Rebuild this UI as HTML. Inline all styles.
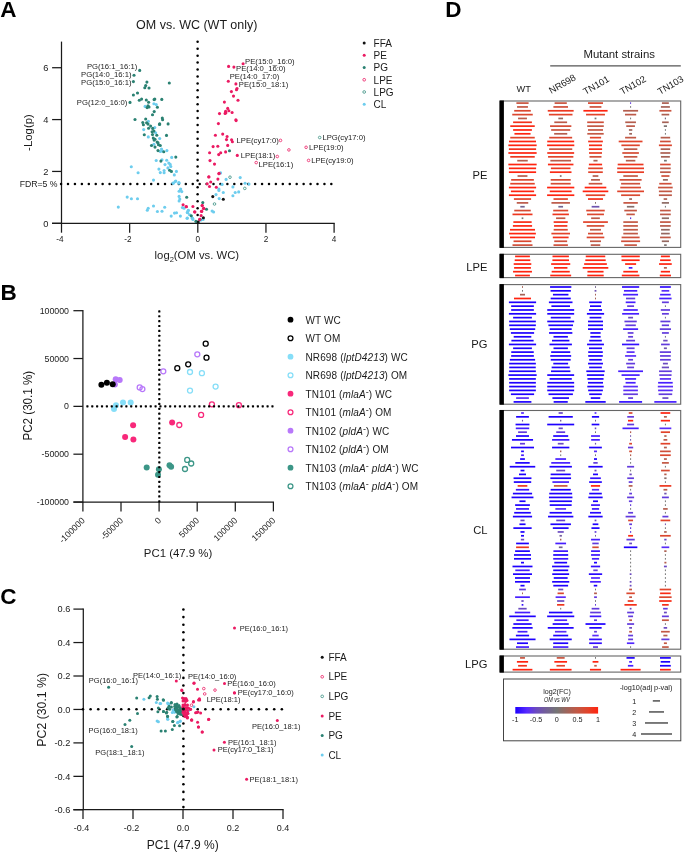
<!DOCTYPE html>
<html><head><meta charset="utf-8"><style>
html,body{margin:0;padding:0;background:#fff;}
svg{display:block;font-family:"Liberation Sans", sans-serif;will-change:transform;}
</style></head><body>
<svg width="685" height="853" viewBox="0 0 685 853">
<rect width="685" height="853" fill="#fff"/>
<text x="0.3" y="17" font-size="22.5" text-anchor="start" fill="#000" font-weight="bold">A</text>
<text x="136.1" y="29.1" font-size="12.5" text-anchor="start" fill="#1a1a1a">OM vs. WC (WT only)</text>
<line x1="61.5" y1="41.6" x2="61.5" y2="223.9" stroke="#1a1a1a" stroke-width="1.25"/>
<line x1="52.0" y1="223.3" x2="334.7" y2="223.3" stroke="#1a1a1a" stroke-width="1.25"/>
<line x1="52.1" y1="223.3" x2="61.5" y2="223.3" stroke="#1a1a1a" stroke-width="1.25"/>
<text x="48.4" y="226.70000000000002" font-size="9.3" text-anchor="end" fill="#1a1a1a">0</text>
<line x1="52.1" y1="171.44" x2="61.5" y2="171.44" stroke="#1a1a1a" stroke-width="1.25"/>
<text x="48.4" y="174.84" font-size="9.3" text-anchor="end" fill="#1a1a1a">2</text>
<line x1="52.1" y1="119.58000000000001" x2="61.5" y2="119.58000000000001" stroke="#1a1a1a" stroke-width="1.25"/>
<text x="48.4" y="122.98000000000002" font-size="9.3" text-anchor="end" fill="#1a1a1a">4</text>
<line x1="52.1" y1="67.72000000000003" x2="61.5" y2="67.72000000000003" stroke="#1a1a1a" stroke-width="1.25"/>
<text x="48.4" y="71.12000000000003" font-size="9.3" text-anchor="end" fill="#1a1a1a">6</text>
<line x1="61.5" y1="223.3" x2="61.5" y2="232.7" stroke="#1a1a1a" stroke-width="1.25"/>
<line x1="129.65" y1="223.3" x2="129.65" y2="232.7" stroke="#1a1a1a" stroke-width="1.25"/>
<line x1="197.8" y1="223.3" x2="197.8" y2="232.7" stroke="#1a1a1a" stroke-width="1.25"/>
<line x1="265.95" y1="223.3" x2="265.95" y2="232.7" stroke="#1a1a1a" stroke-width="1.25"/>
<line x1="334.1" y1="223.3" x2="334.1" y2="232.7" stroke="#1a1a1a" stroke-width="1.25"/>
<text x="63.5" y="241.7" font-size="8.2" text-anchor="end" fill="#1a1a1a">-4</text>
<text x="131.65" y="241.7" font-size="8.2" text-anchor="end" fill="#1a1a1a">-2</text>
<text x="197.8" y="241.7" font-size="8.2" text-anchor="middle" fill="#1a1a1a">0</text>
<text x="265.95" y="241.7" font-size="8.2" text-anchor="middle" fill="#1a1a1a">2</text>
<text x="334.1" y="241.7" font-size="8.2" text-anchor="middle" fill="#1a1a1a">4</text>
<text x="154.6" y="259.4" font-size="11.3" fill="#222">log<tspan font-size="7.5" dy="2.5">2</tspan><tspan dy="-2.5">(OM vs. WC)</tspan></text>
<text x="31.6" y="132.5" font-size="11.4" text-anchor="middle" fill="#1a1a1a" transform="rotate(-90 31.6 132.5)">-Log(p)</text>
<text x="19.7" y="187.0" font-size="8.7" text-anchor="start" fill="#1a1a1a">FDR=5 %</text>
<circle cx="61.07" cy="183.90" r="1.25" fill="#000"/>
<circle cx="68.00" cy="183.90" r="1.25" fill="#000"/>
<circle cx="74.93" cy="183.90" r="1.25" fill="#000"/>
<circle cx="81.86" cy="183.90" r="1.25" fill="#000"/>
<circle cx="88.79" cy="183.90" r="1.25" fill="#000"/>
<circle cx="95.72" cy="183.90" r="1.25" fill="#000"/>
<circle cx="102.65" cy="183.90" r="1.25" fill="#000"/>
<circle cx="109.58" cy="183.90" r="1.25" fill="#000"/>
<circle cx="116.51" cy="183.90" r="1.25" fill="#000"/>
<circle cx="123.44" cy="183.90" r="1.25" fill="#000"/>
<circle cx="130.37" cy="183.90" r="1.25" fill="#000"/>
<circle cx="137.30" cy="183.90" r="1.25" fill="#000"/>
<circle cx="144.23" cy="183.90" r="1.25" fill="#000"/>
<circle cx="151.16" cy="183.90" r="1.25" fill="#000"/>
<circle cx="158.09" cy="183.90" r="1.25" fill="#000"/>
<circle cx="165.02" cy="183.90" r="1.25" fill="#000"/>
<circle cx="171.95" cy="183.90" r="1.25" fill="#000"/>
<circle cx="178.88" cy="183.90" r="1.25" fill="#000"/>
<circle cx="185.81" cy="183.90" r="1.25" fill="#000"/>
<circle cx="192.74" cy="183.90" r="1.25" fill="#000"/>
<circle cx="199.67" cy="183.90" r="1.25" fill="#000"/>
<circle cx="206.60" cy="183.90" r="1.25" fill="#000"/>
<circle cx="213.53" cy="183.90" r="1.25" fill="#000"/>
<circle cx="220.46" cy="183.90" r="1.25" fill="#000"/>
<circle cx="227.39" cy="183.90" r="1.25" fill="#000"/>
<circle cx="234.32" cy="183.90" r="1.25" fill="#000"/>
<circle cx="241.25" cy="183.90" r="1.25" fill="#000"/>
<circle cx="248.18" cy="183.90" r="1.25" fill="#000"/>
<circle cx="255.11" cy="183.90" r="1.25" fill="#000"/>
<circle cx="262.04" cy="183.90" r="1.25" fill="#000"/>
<circle cx="268.97" cy="183.90" r="1.25" fill="#000"/>
<circle cx="275.90" cy="183.90" r="1.25" fill="#000"/>
<circle cx="282.83" cy="183.90" r="1.25" fill="#000"/>
<circle cx="289.76" cy="183.90" r="1.25" fill="#000"/>
<circle cx="296.69" cy="183.90" r="1.25" fill="#000"/>
<circle cx="303.62" cy="183.90" r="1.25" fill="#000"/>
<circle cx="310.55" cy="183.90" r="1.25" fill="#000"/>
<circle cx="317.48" cy="183.90" r="1.25" fill="#000"/>
<circle cx="324.41" cy="183.90" r="1.25" fill="#000"/>
<circle cx="331.34" cy="183.90" r="1.25" fill="#000"/>
<circle cx="197.60" cy="222.00" r="1.25" fill="#000"/>
<circle cx="197.60" cy="215.07" r="1.25" fill="#000"/>
<circle cx="197.60" cy="208.14" r="1.25" fill="#000"/>
<circle cx="197.60" cy="201.21" r="1.25" fill="#000"/>
<circle cx="197.60" cy="194.28" r="1.25" fill="#000"/>
<circle cx="197.60" cy="187.35" r="1.25" fill="#000"/>
<circle cx="197.60" cy="180.42" r="1.25" fill="#000"/>
<circle cx="197.60" cy="173.49" r="1.25" fill="#000"/>
<circle cx="197.60" cy="166.56" r="1.25" fill="#000"/>
<circle cx="197.60" cy="159.63" r="1.25" fill="#000"/>
<circle cx="197.60" cy="152.70" r="1.25" fill="#000"/>
<circle cx="197.60" cy="145.77" r="1.25" fill="#000"/>
<circle cx="197.60" cy="138.84" r="1.25" fill="#000"/>
<circle cx="197.60" cy="131.91" r="1.25" fill="#000"/>
<circle cx="197.60" cy="124.98" r="1.25" fill="#000"/>
<circle cx="197.60" cy="118.05" r="1.25" fill="#000"/>
<circle cx="197.60" cy="111.12" r="1.25" fill="#000"/>
<circle cx="197.60" cy="104.19" r="1.25" fill="#000"/>
<circle cx="197.60" cy="97.26" r="1.25" fill="#000"/>
<circle cx="197.60" cy="90.33" r="1.25" fill="#000"/>
<circle cx="197.60" cy="83.40" r="1.25" fill="#000"/>
<circle cx="197.60" cy="76.47" r="1.25" fill="#000"/>
<circle cx="197.60" cy="69.54" r="1.25" fill="#000"/>
<circle cx="197.60" cy="62.61" r="1.25" fill="#000"/>
<circle cx="197.60" cy="55.68" r="1.25" fill="#000"/>
<circle cx="197.60" cy="48.75" r="1.25" fill="#000"/>
<circle cx="197.60" cy="41.82" r="1.25" fill="#000"/>
<circle cx="145.10" cy="106.40" r="1.55" fill="#6dcdee"/>
<circle cx="153.90" cy="103.80" r="1.55" fill="#6dcdee"/>
<circle cx="156.20" cy="104.60" r="1.55" fill="#6dcdee"/>
<circle cx="148.40" cy="121.30" r="1.55" fill="#6dcdee"/>
<circle cx="154.80" cy="127.60" r="1.55" fill="#6dcdee"/>
<circle cx="143.70" cy="129.60" r="1.55" fill="#6dcdee"/>
<circle cx="155.60" cy="132.80" r="1.55" fill="#6dcdee"/>
<circle cx="148.30" cy="136.90" r="1.55" fill="#6dcdee"/>
<circle cx="159.70" cy="138.50" r="1.55" fill="#6dcdee"/>
<circle cx="153.90" cy="144.30" r="1.55" fill="#6dcdee"/>
<circle cx="161.50" cy="149.00" r="1.55" fill="#6dcdee"/>
<circle cx="160.30" cy="151.50" r="1.55" fill="#6dcdee"/>
<circle cx="162.30" cy="150.90" r="1.55" fill="#6dcdee"/>
<circle cx="166.90" cy="150.60" r="1.55" fill="#6dcdee"/>
<circle cx="171.70" cy="157.40" r="1.55" fill="#6dcdee"/>
<circle cx="156.20" cy="160.50" r="1.55" fill="#6dcdee"/>
<circle cx="162.00" cy="159.70" r="1.55" fill="#6dcdee"/>
<circle cx="166.70" cy="160.30" r="1.55" fill="#6dcdee"/>
<circle cx="165.00" cy="164.60" r="1.55" fill="#6dcdee"/>
<circle cx="168.80" cy="163.00" r="1.55" fill="#6dcdee"/>
<circle cx="170.20" cy="164.40" r="1.55" fill="#6dcdee"/>
<circle cx="170.80" cy="166.50" r="1.55" fill="#6dcdee"/>
<circle cx="167.90" cy="167.90" r="1.55" fill="#6dcdee"/>
<circle cx="131.30" cy="166.70" r="1.55" fill="#6dcdee"/>
<circle cx="138.10" cy="172.80" r="1.55" fill="#6dcdee"/>
<circle cx="158.90" cy="169.10" r="1.55" fill="#6dcdee"/>
<circle cx="160.30" cy="172.60" r="1.55" fill="#6dcdee"/>
<circle cx="164.10" cy="170.50" r="1.55" fill="#6dcdee"/>
<circle cx="164.10" cy="172.80" r="1.55" fill="#6dcdee"/>
<circle cx="176.40" cy="171.40" r="1.55" fill="#6dcdee"/>
<circle cx="174.30" cy="174.90" r="1.55" fill="#6dcdee"/>
<circle cx="153.50" cy="180.10" r="1.55" fill="#6dcdee"/>
<circle cx="175.80" cy="181.00" r="1.55" fill="#6dcdee"/>
<circle cx="173.10" cy="183.10" r="1.55" fill="#6dcdee"/>
<circle cx="179.00" cy="183.30" r="1.55" fill="#6dcdee"/>
<circle cx="180.70" cy="189.10" r="1.55" fill="#6dcdee"/>
<circle cx="173.20" cy="183.30" r="1.55" fill="#6dcdee"/>
<circle cx="175.20" cy="181.60" r="1.55" fill="#6dcdee"/>
<circle cx="178.90" cy="182.60" r="1.55" fill="#6dcdee"/>
<circle cx="180.40" cy="189.90" r="1.55" fill="#6dcdee"/>
<circle cx="181.80" cy="191.60" r="1.55" fill="#6dcdee"/>
<circle cx="179.10" cy="191.20" r="1.55" fill="#6dcdee"/>
<circle cx="127.20" cy="197.10" r="1.55" fill="#6dcdee"/>
<circle cx="131.40" cy="198.80" r="1.55" fill="#6dcdee"/>
<circle cx="137.50" cy="198.80" r="1.55" fill="#6dcdee"/>
<circle cx="179.10" cy="196.40" r="1.55" fill="#6dcdee"/>
<circle cx="179.80" cy="199.10" r="1.55" fill="#6dcdee"/>
<circle cx="179.10" cy="201.00" r="1.55" fill="#6dcdee"/>
<circle cx="148.20" cy="208.20" r="1.55" fill="#6dcdee"/>
<circle cx="147.30" cy="210.20" r="1.55" fill="#6dcdee"/>
<circle cx="153.50" cy="206.00" r="1.55" fill="#6dcdee"/>
<circle cx="157.40" cy="211.50" r="1.55" fill="#6dcdee"/>
<circle cx="162.00" cy="211.30" r="1.55" fill="#6dcdee"/>
<circle cx="164.70" cy="207.30" r="1.55" fill="#6dcdee"/>
<circle cx="182.40" cy="207.60" r="1.55" fill="#6dcdee"/>
<circle cx="184.10" cy="208.20" r="1.55" fill="#6dcdee"/>
<circle cx="188.30" cy="210.50" r="1.55" fill="#6dcdee"/>
<circle cx="187.70" cy="212.80" r="1.55" fill="#6dcdee"/>
<circle cx="174.50" cy="213.10" r="1.55" fill="#6dcdee"/>
<circle cx="176.50" cy="212.80" r="1.55" fill="#6dcdee"/>
<circle cx="171.20" cy="216.10" r="1.55" fill="#6dcdee"/>
<circle cx="180.40" cy="216.10" r="1.55" fill="#6dcdee"/>
<circle cx="187.30" cy="218.10" r="1.55" fill="#6dcdee"/>
<circle cx="192.00" cy="218.10" r="1.55" fill="#6dcdee"/>
<circle cx="192.90" cy="219.40" r="1.55" fill="#6dcdee"/>
<circle cx="189.60" cy="214.80" r="1.55" fill="#6dcdee"/>
<circle cx="200.80" cy="220.10" r="1.55" fill="#6dcdee"/>
<circle cx="118.30" cy="207.10" r="1.55" fill="#6dcdee"/>
<circle cx="220.60" cy="172.90" r="1.55" fill="#6dcdee"/>
<circle cx="226.10" cy="179.40" r="1.55" fill="#6dcdee"/>
<circle cx="240.20" cy="177.60" r="1.55" fill="#6dcdee"/>
<circle cx="222.10" cy="184.40" r="1.55" fill="#6dcdee"/>
<circle cx="245.10" cy="183.20" r="1.55" fill="#6dcdee"/>
<circle cx="249.00" cy="184.10" r="1.55" fill="#6dcdee"/>
<circle cx="232.90" cy="186.90" r="1.55" fill="#6dcdee"/>
<circle cx="218.90" cy="189.00" r="1.55" fill="#6dcdee"/>
<circle cx="218.90" cy="190.40" r="1.55" fill="#6dcdee"/>
<circle cx="223.30" cy="192.50" r="1.55" fill="#6dcdee"/>
<circle cx="216.00" cy="194.60" r="1.55" fill="#6dcdee"/>
<circle cx="235.20" cy="192.50" r="1.55" fill="#6dcdee"/>
<circle cx="238.70" cy="191.90" r="1.55" fill="#6dcdee"/>
<circle cx="232.90" cy="195.70" r="1.55" fill="#6dcdee"/>
<circle cx="219.20" cy="198.60" r="1.55" fill="#6dcdee"/>
<circle cx="212.10" cy="211.00" r="1.55" fill="#6dcdee"/>
<circle cx="213.60" cy="212.00" r="1.55" fill="#6dcdee"/>
<circle cx="187.30" cy="212.40" r="1.55" fill="#6dcdee"/>
<circle cx="188.30" cy="210.30" r="1.55" fill="#6dcdee"/>
<circle cx="187.10" cy="218.20" r="1.55" fill="#6dcdee"/>
<circle cx="192.60" cy="218.20" r="1.55" fill="#6dcdee"/>
<circle cx="203.10" cy="219.40" r="1.55" fill="#6dcdee"/>
<circle cx="139.70" cy="70.40" r="1.55" fill="#2a8172"/>
<circle cx="134.00" cy="75.20" r="1.55" fill="#2a8172"/>
<circle cx="133.40" cy="81.60" r="1.55" fill="#2a8172"/>
<circle cx="146.90" cy="82.10" r="1.55" fill="#2a8172"/>
<circle cx="169.30" cy="83.00" r="1.55" fill="#2a8172"/>
<circle cx="145.70" cy="85.60" r="1.55" fill="#2a8172"/>
<circle cx="144.80" cy="87.70" r="1.55" fill="#2a8172"/>
<circle cx="149.00" cy="88.00" r="1.55" fill="#2a8172"/>
<circle cx="137.50" cy="93.00" r="1.55" fill="#2a8172"/>
<circle cx="133.40" cy="95.00" r="1.55" fill="#2a8172"/>
<circle cx="130.00" cy="102.40" r="1.55" fill="#2a8172"/>
<circle cx="139.30" cy="100.30" r="1.55" fill="#2a8172"/>
<circle cx="141.60" cy="99.10" r="1.55" fill="#2a8172"/>
<circle cx="146.30" cy="100.00" r="1.55" fill="#2a8172"/>
<circle cx="154.10" cy="99.60" r="1.55" fill="#2a8172"/>
<circle cx="154.80" cy="99.10" r="1.55" fill="#2a8172"/>
<circle cx="161.80" cy="99.40" r="1.55" fill="#2a8172"/>
<circle cx="148.60" cy="102.30" r="1.55" fill="#2a8172"/>
<circle cx="148.00" cy="105.80" r="1.55" fill="#2a8172"/>
<circle cx="147.10" cy="107.60" r="1.55" fill="#2a8172"/>
<circle cx="149.00" cy="107.00" r="1.55" fill="#2a8172"/>
<circle cx="157.40" cy="107.30" r="1.55" fill="#2a8172"/>
<circle cx="154.20" cy="111.60" r="1.55" fill="#2a8172"/>
<circle cx="152.50" cy="114.80" r="1.55" fill="#2a8172"/>
<circle cx="135.00" cy="119.50" r="1.55" fill="#2a8172"/>
<circle cx="145.70" cy="119.00" r="1.55" fill="#2a8172"/>
<circle cx="162.30" cy="118.10" r="1.55" fill="#2a8172"/>
<circle cx="162.60" cy="119.80" r="1.55" fill="#2a8172"/>
<circle cx="142.80" cy="122.50" r="1.55" fill="#2a8172"/>
<circle cx="146.60" cy="122.70" r="1.55" fill="#2a8172"/>
<circle cx="159.70" cy="123.90" r="1.55" fill="#2a8172"/>
<circle cx="168.10" cy="123.90" r="1.55" fill="#2a8172"/>
<circle cx="148.00" cy="124.10" r="1.55" fill="#2a8172"/>
<circle cx="143.40" cy="124.70" r="1.55" fill="#2a8172"/>
<circle cx="150.60" cy="126.10" r="1.55" fill="#2a8172"/>
<circle cx="148.60" cy="128.20" r="1.55" fill="#2a8172"/>
<circle cx="152.70" cy="128.40" r="1.55" fill="#2a8172"/>
<circle cx="159.50" cy="124.40" r="1.55" fill="#2a8172"/>
<circle cx="152.10" cy="131.70" r="1.55" fill="#2a8172"/>
<circle cx="153.90" cy="131.10" r="1.55" fill="#2a8172"/>
<circle cx="144.30" cy="134.80" r="1.55" fill="#2a8172"/>
<circle cx="152.50" cy="134.60" r="1.55" fill="#2a8172"/>
<circle cx="156.80" cy="135.20" r="1.55" fill="#2a8172"/>
<circle cx="166.50" cy="135.40" r="1.55" fill="#2a8172"/>
<circle cx="153.30" cy="138.10" r="1.55" fill="#2a8172"/>
<circle cx="155.00" cy="139.30" r="1.55" fill="#2a8172"/>
<circle cx="154.10" cy="140.10" r="1.55" fill="#2a8172"/>
<circle cx="157.10" cy="142.00" r="1.55" fill="#2a8172"/>
<circle cx="158.00" cy="142.80" r="1.55" fill="#2a8172"/>
<circle cx="151.50" cy="145.50" r="1.55" fill="#2a8172"/>
<circle cx="158.50" cy="144.80" r="1.55" fill="#2a8172"/>
<circle cx="160.30" cy="145.50" r="1.55" fill="#2a8172"/>
<circle cx="155.00" cy="147.10" r="1.55" fill="#2a8172"/>
<circle cx="158.00" cy="150.60" r="1.55" fill="#2a8172"/>
<circle cx="163.80" cy="151.80" r="1.55" fill="#2a8172"/>
<circle cx="175.80" cy="157.10" r="1.55" fill="#2a8172"/>
<circle cx="160.90" cy="161.10" r="1.55" fill="#2a8172"/>
<circle cx="169.60" cy="170.20" r="1.55" fill="#2a8172"/>
<circle cx="171.40" cy="171.40" r="1.55" fill="#2a8172"/>
<circle cx="186.70" cy="197.30" r="1.55" fill="#2a8172"/>
<circle cx="202.80" cy="202.60" r="1.55" fill="#2a8172"/>
<circle cx="206.50" cy="209.20" r="1.55" fill="#2a8172"/>
<circle cx="191.30" cy="215.70" r="1.55" fill="#2a8172"/>
<circle cx="195.90" cy="221.40" r="1.55" fill="#2a8172"/>
<circle cx="200.10" cy="219.20" r="1.55" fill="#2a8172"/>
<circle cx="229.50" cy="150.70" r="1.55" fill="#2a8172"/>
<circle cx="243.10" cy="63.80" r="1.55" fill="#eb1a62"/>
<circle cx="228.60" cy="66.40" r="1.55" fill="#eb1a62"/>
<circle cx="233.90" cy="67.10" r="1.55" fill="#eb1a62"/>
<circle cx="228.30" cy="81.30" r="1.55" fill="#eb1a62"/>
<circle cx="235.90" cy="83.90" r="1.55" fill="#eb1a62"/>
<circle cx="237.00" cy="88.50" r="1.55" fill="#eb1a62"/>
<circle cx="236.50" cy="89.70" r="1.55" fill="#eb1a62"/>
<circle cx="231.40" cy="91.60" r="1.55" fill="#eb1a62"/>
<circle cx="233.50" cy="96.10" r="1.55" fill="#eb1a62"/>
<circle cx="238.00" cy="100.20" r="1.55" fill="#eb1a62"/>
<circle cx="224.40" cy="102.10" r="1.55" fill="#eb1a62"/>
<circle cx="227.70" cy="108.40" r="1.55" fill="#eb1a62"/>
<circle cx="225.60" cy="111.30" r="1.55" fill="#eb1a62"/>
<circle cx="228.90" cy="110.70" r="1.55" fill="#eb1a62"/>
<circle cx="225.10" cy="113.40" r="1.55" fill="#eb1a62"/>
<circle cx="225.90" cy="112.80" r="1.55" fill="#eb1a62"/>
<circle cx="232.10" cy="112.50" r="1.55" fill="#eb1a62"/>
<circle cx="219.50" cy="113.60" r="1.55" fill="#eb1a62"/>
<circle cx="235.90" cy="119.80" r="1.55" fill="#eb1a62"/>
<circle cx="236.10" cy="120.60" r="1.55" fill="#eb1a62"/>
<circle cx="218.40" cy="123.60" r="1.55" fill="#eb1a62"/>
<circle cx="215.40" cy="135.30" r="1.55" fill="#eb1a62"/>
<circle cx="222.70" cy="134.10" r="1.55" fill="#eb1a62"/>
<circle cx="227.10" cy="136.50" r="1.55" fill="#eb1a62"/>
<circle cx="226.50" cy="139.60" r="1.55" fill="#eb1a62"/>
<circle cx="231.60" cy="139.80" r="1.55" fill="#eb1a62"/>
<circle cx="232.40" cy="141.70" r="1.55" fill="#eb1a62"/>
<circle cx="213.10" cy="146.60" r="1.55" fill="#eb1a62"/>
<circle cx="217.80" cy="146.30" r="1.55" fill="#eb1a62"/>
<circle cx="227.70" cy="145.40" r="1.55" fill="#eb1a62"/>
<circle cx="209.60" cy="152.80" r="1.55" fill="#eb1a62"/>
<circle cx="218.70" cy="154.60" r="1.55" fill="#eb1a62"/>
<circle cx="220.70" cy="152.80" r="1.55" fill="#eb1a62"/>
<circle cx="225.60" cy="151.90" r="1.55" fill="#eb1a62"/>
<circle cx="237.30" cy="155.40" r="1.55" fill="#eb1a62"/>
<circle cx="210.00" cy="160.60" r="1.55" fill="#eb1a62"/>
<circle cx="214.50" cy="164.10" r="1.55" fill="#eb1a62"/>
<circle cx="218.90" cy="173.80" r="1.55" fill="#eb1a62"/>
<circle cx="208.80" cy="177.00" r="1.55" fill="#eb1a62"/>
<circle cx="219.10" cy="173.30" r="1.55" fill="#eb1a62"/>
<circle cx="208.90" cy="176.80" r="1.55" fill="#eb1a62"/>
<circle cx="217.90" cy="179.10" r="1.55" fill="#eb1a62"/>
<circle cx="207.20" cy="183.80" r="1.55" fill="#eb1a62"/>
<circle cx="210.70" cy="182.00" r="1.55" fill="#eb1a62"/>
<circle cx="209.50" cy="186.50" r="1.55" fill="#eb1a62"/>
<circle cx="216.30" cy="187.30" r="1.55" fill="#eb1a62"/>
<circle cx="186.20" cy="206.50" r="1.55" fill="#eb1a62"/>
<circle cx="192.90" cy="206.50" r="1.55" fill="#eb1a62"/>
<circle cx="202.30" cy="205.60" r="1.55" fill="#eb1a62"/>
<circle cx="203.50" cy="208.60" r="1.55" fill="#eb1a62"/>
<circle cx="194.90" cy="212.10" r="1.55" fill="#eb1a62"/>
<circle cx="201.70" cy="211.40" r="1.55" fill="#eb1a62"/>
<circle cx="201.10" cy="215.60" r="1.55" fill="#eb1a62"/>
<circle cx="199.60" cy="219.40" r="1.55" fill="#eb1a62"/>
<circle cx="183.10" cy="204.70" r="1.55" fill="#eb1a62"/>
<circle cx="186.40" cy="206.70" r="1.55" fill="#eb1a62"/>
<circle cx="194.60" cy="211.80" r="1.55" fill="#eb1a62"/>
<circle cx="201.50" cy="211.30" r="1.55" fill="#eb1a62"/>
<circle cx="202.10" cy="205.60" r="1.55" fill="#eb1a62"/>
<circle cx="203.80" cy="208.20" r="1.55" fill="#eb1a62"/>
<circle cx="203.40" cy="217.80" r="1.55" fill="#111"/>
<circle cx="198.20" cy="222.00" r="1.55" fill="#111"/>
<circle cx="212.80" cy="196.60" r="1.55" fill="#111"/>
<circle cx="223.30" cy="199.30" r="1.55" fill="#111"/>
<circle cx="280.50" cy="140.40" r="1.3" fill="none" stroke="#eb1a62" stroke-width="0.8"/>
<circle cx="288.90" cy="149.90" r="1.3" fill="none" stroke="#eb1a62" stroke-width="0.8"/>
<circle cx="277.30" cy="156.50" r="1.3" fill="none" stroke="#eb1a62" stroke-width="0.8"/>
<circle cx="256.20" cy="162.60" r="1.3" fill="none" stroke="#eb1a62" stroke-width="0.8"/>
<circle cx="306.10" cy="147.30" r="1.3" fill="none" stroke="#eb1a62" stroke-width="0.8"/>
<circle cx="308.60" cy="160.40" r="1.3" fill="none" stroke="#eb1a62" stroke-width="0.8"/>
<circle cx="319.70" cy="137.50" r="1.3" fill="none" stroke="#3a8f82" stroke-width="0.8"/>
<circle cx="230.00" cy="177.20" r="1.3" fill="none" stroke="#3a8f82" stroke-width="0.8"/>
<circle cx="244.80" cy="188.40" r="1.3" fill="none" stroke="#3a8f82" stroke-width="0.8"/>
<circle cx="214.50" cy="204.00" r="1.3" fill="none" stroke="#3a8f82" stroke-width="0.8"/>
<text x="245.1" y="64.0" font-size="7.7" text-anchor="start" fill="#222">PE(15:0_16:0)</text>
<text x="236.1" y="71.3" font-size="7.7" text-anchor="start" fill="#222">PE(14:0_16:0)</text>
<text x="229.7" y="78.6" font-size="7.7" text-anchor="start" fill="#222">PE(14:0_17:0)</text>
<text x="238.8" y="86.5" font-size="7.7" text-anchor="start" fill="#222">PE(15:0_18:1)</text>
<text x="236.5" y="142.9" font-size="7.7" text-anchor="start" fill="#222">LPE(cy17:0)</text>
<text x="240.8" y="157.7" font-size="7.7" text-anchor="start" fill="#222">LPE(18:1)</text>
<text x="258.6" y="167.4" font-size="7.7" text-anchor="start" fill="#222">LPE(16:1)</text>
<text x="322.4" y="139.7" font-size="7.7" text-anchor="start" fill="#222">LPG(cy17:0)</text>
<text x="309.0" y="149.9" font-size="7.7" text-anchor="start" fill="#222">LPE(19:0)</text>
<text x="311.2" y="163.1" font-size="7.7" text-anchor="start" fill="#222">LPE(cy19:0)</text>
<text x="86.9" y="68.7" font-size="7.7" text-anchor="start" fill="#222">PG(16:1_16:1)</text>
<text x="81.1" y="77.3" font-size="7.7" text-anchor="start" fill="#222">PG(14:0_16:1)</text>
<text x="81.1" y="85.4" font-size="7.7" text-anchor="start" fill="#222">PG(15:0_16:1)</text>
<text x="76.8" y="104.5" font-size="7.7" text-anchor="start" fill="#222">PG(12:0_16:0)</text>
<circle cx="364.20" cy="43.10" r="1.5" fill="#111"/>
<text x="373.6" y="46.9" font-size="10" text-anchor="start" fill="#1a1a1a">FFA</text>
<circle cx="364.20" cy="55.32" r="1.5" fill="#eb1a62"/>
<text x="373.6" y="59.12" font-size="10" text-anchor="start" fill="#1a1a1a">PE</text>
<circle cx="364.20" cy="67.54" r="1.5" fill="#2a8172"/>
<text x="373.6" y="71.34" font-size="10" text-anchor="start" fill="#1a1a1a">PG</text>
<circle cx="364.20" cy="79.76" r="1.35" fill="none" stroke="#eb1a62" stroke-width="0.8"/>
<text x="373.6" y="83.56" font-size="10" text-anchor="start" fill="#1a1a1a">LPE</text>
<circle cx="364.20" cy="91.98" r="1.35" fill="none" stroke="#3a8f82" stroke-width="0.8"/>
<text x="373.6" y="95.78" font-size="10" text-anchor="start" fill="#1a1a1a">LPG</text>
<circle cx="364.20" cy="104.20" r="1.5" fill="#6dcdee"/>
<text x="373.6" y="108.0" font-size="10" text-anchor="start" fill="#1a1a1a">CL</text>
<text x="0.5" y="300.4" font-size="22.5" text-anchor="start" fill="#000" font-weight="bold">B</text>
<line x1="82.9" y1="310.0" x2="82.9" y2="502.6" stroke="#1a1a1a" stroke-width="1.25"/>
<line x1="73.4" y1="502.0" x2="274.0" y2="502.0" stroke="#1a1a1a" stroke-width="1.25"/>
<line x1="73.4" y1="310.7" x2="82.9" y2="310.7" stroke="#1a1a1a" stroke-width="1.25"/>
<text x="69.0" y="313.8" font-size="8.8" text-anchor="end" fill="#1a1a1a">100000</text>
<line x1="73.4" y1="358.53" x2="82.9" y2="358.53" stroke="#1a1a1a" stroke-width="1.25"/>
<text x="69.0" y="361.63" font-size="8.8" text-anchor="end" fill="#1a1a1a">50000</text>
<line x1="73.4" y1="406.36" x2="82.9" y2="406.36" stroke="#1a1a1a" stroke-width="1.25"/>
<text x="69.0" y="409.46000000000004" font-size="8.8" text-anchor="end" fill="#1a1a1a">0</text>
<line x1="73.4" y1="454.19" x2="82.9" y2="454.19" stroke="#1a1a1a" stroke-width="1.25"/>
<text x="69.0" y="457.29" font-size="8.8" text-anchor="end" fill="#1a1a1a">-50000</text>
<line x1="73.4" y1="502.02" x2="82.9" y2="502.02" stroke="#1a1a1a" stroke-width="1.25"/>
<text x="69.0" y="505.12" font-size="8.8" text-anchor="end" fill="#1a1a1a">-100000</text>
<line x1="82.9" y1="502.0" x2="82.9" y2="511.4" stroke="#1a1a1a" stroke-width="1.25"/>
<text x="85.5" y="521.0" font-size="8.8" text-anchor="end" fill="#1a1a1a" transform="rotate(-45 85.5 521.0)">-100000</text>
<line x1="121.0" y1="502.0" x2="121.0" y2="511.4" stroke="#1a1a1a" stroke-width="1.25"/>
<text x="123.6" y="521.0" font-size="8.8" text-anchor="end" fill="#1a1a1a" transform="rotate(-45 123.6 521.0)">-50000</text>
<line x1="159.10000000000002" y1="502.0" x2="159.10000000000002" y2="511.4" stroke="#1a1a1a" stroke-width="1.25"/>
<text x="161.70000000000002" y="521.0" font-size="8.8" text-anchor="end" fill="#1a1a1a" transform="rotate(-45 161.70000000000002 521.0)">0</text>
<line x1="197.20000000000002" y1="502.0" x2="197.20000000000002" y2="511.4" stroke="#1a1a1a" stroke-width="1.25"/>
<text x="199.8" y="521.0" font-size="8.8" text-anchor="end" fill="#1a1a1a" transform="rotate(-45 199.8 521.0)">50000</text>
<line x1="235.3" y1="502.0" x2="235.3" y2="511.4" stroke="#1a1a1a" stroke-width="1.25"/>
<text x="237.9" y="521.0" font-size="8.8" text-anchor="end" fill="#1a1a1a" transform="rotate(-45 237.9 521.0)">100000</text>
<line x1="273.4" y1="502.0" x2="273.4" y2="511.4" stroke="#1a1a1a" stroke-width="1.25"/>
<text x="276.0" y="521.0" font-size="8.8" text-anchor="end" fill="#1a1a1a" transform="rotate(-45 276.0 521.0)">150000</text>
<text x="178.0" y="556.9" font-size="11.4" text-anchor="middle" fill="#1a1a1a">PC1 (47.9 %)</text>
<text x="32.2" y="405.7" font-size="12.3" text-anchor="middle" fill="#1a1a1a" transform="rotate(-90 32.2 405.7)" textLength="69.6" lengthAdjust="spacingAndGlyphs">PC2 (30.1 %)</text>
<circle cx="114.90" cy="384.50" r="3.0" fill="#b878fa"/>
<circle cx="115.70" cy="379.30" r="3.0" fill="#b878fa"/>
<circle cx="119.70" cy="379.90" r="3.0" fill="#b878fa"/>
<circle cx="101.40" cy="384.70" r="3.0" fill="#000"/>
<circle cx="106.90" cy="382.80" r="3.0" fill="#000"/>
<circle cx="112.70" cy="384.30" r="3.0" fill="#000"/>
<circle cx="139.70" cy="387.40" r="2.5" fill="none" stroke="#b878fa" stroke-width="1.3"/>
<circle cx="142.40" cy="389.10" r="2.5" fill="none" stroke="#b878fa" stroke-width="1.3"/>
<circle cx="163.30" cy="371.30" r="2.5" fill="none" stroke="#b878fa" stroke-width="1.3"/>
<circle cx="197.30" cy="354.30" r="2.5" fill="none" stroke="#b878fa" stroke-width="1.3"/>
<circle cx="177.30" cy="368.20" r="2.5" fill="none" stroke="#000" stroke-width="1.3"/>
<circle cx="205.70" cy="343.70" r="2.5" fill="none" stroke="#000" stroke-width="1.3"/>
<circle cx="206.50" cy="357.70" r="2.5" fill="none" stroke="#000" stroke-width="1.3"/>
<circle cx="188.20" cy="364.30" r="2.5" fill="none" stroke="#000" stroke-width="1.3"/>
<circle cx="116.00" cy="405.30" r="3.0" fill="#86def8"/>
<circle cx="114.00" cy="409.00" r="3.0" fill="#86def8"/>
<circle cx="123.00" cy="402.50" r="3.0" fill="#86def8"/>
<circle cx="130.70" cy="402.50" r="3.0" fill="#86def8"/>
<circle cx="190.00" cy="372.00" r="2.5" fill="none" stroke="#86def8" stroke-width="1.3"/>
<circle cx="201.90" cy="373.20" r="2.5" fill="none" stroke="#86def8" stroke-width="1.3"/>
<circle cx="190.00" cy="390.60" r="2.5" fill="none" stroke="#86def8" stroke-width="1.3"/>
<circle cx="215.60" cy="386.60" r="2.5" fill="none" stroke="#86def8" stroke-width="1.3"/>
<circle cx="133.10" cy="425.20" r="3.0" fill="#f8287a"/>
<circle cx="125.10" cy="436.90" r="3.0" fill="#f8287a"/>
<circle cx="133.40" cy="439.60" r="3.0" fill="#f8287a"/>
<circle cx="172.10" cy="422.60" r="3.0" fill="#f8287a"/>
<circle cx="179.30" cy="425.00" r="2.5" fill="none" stroke="#f8287a" stroke-width="1.3"/>
<circle cx="201.10" cy="414.90" r="2.5" fill="none" stroke="#f8287a" stroke-width="1.3"/>
<circle cx="211.90" cy="404.30" r="2.5" fill="none" stroke="#f8287a" stroke-width="1.3"/>
<circle cx="238.90" cy="405.20" r="2.5" fill="none" stroke="#f8287a" stroke-width="1.3"/>
<circle cx="146.70" cy="467.50" r="3.0" fill="#3c9687"/>
<circle cx="158.90" cy="469.30" r="3.0" fill="#3c9687"/>
<circle cx="158.00" cy="474.80" r="3.0" fill="#3c9687"/>
<circle cx="169.50" cy="465.30" r="3.0" fill="#3c9687"/>
<circle cx="171.10" cy="466.80" r="3.0" fill="#3c9687"/>
<circle cx="187.20" cy="459.90" r="2.5" fill="none" stroke="#3c9687" stroke-width="1.3"/>
<circle cx="191.20" cy="463.50" r="2.5" fill="none" stroke="#3c9687" stroke-width="1.3"/>
<circle cx="185.00" cy="469.00" r="2.5" fill="none" stroke="#3c9687" stroke-width="1.3"/>
<rect x="86.30" y="405.20" width="2.2" height="2.2" rx="0.6" fill="#000"/>
<rect x="91.17" y="405.20" width="2.2" height="2.2" rx="0.6" fill="#000"/>
<rect x="96.04" y="405.20" width="2.2" height="2.2" rx="0.6" fill="#000"/>
<rect x="100.91" y="405.20" width="2.2" height="2.2" rx="0.6" fill="#000"/>
<rect x="105.78" y="405.20" width="2.2" height="2.2" rx="0.6" fill="#000"/>
<rect x="110.65" y="405.20" width="2.2" height="2.2" rx="0.6" fill="#000"/>
<rect x="115.52" y="405.20" width="2.2" height="2.2" rx="0.6" fill="#000"/>
<rect x="120.39" y="405.20" width="2.2" height="2.2" rx="0.6" fill="#000"/>
<rect x="125.26" y="405.20" width="2.2" height="2.2" rx="0.6" fill="#000"/>
<rect x="130.13" y="405.20" width="2.2" height="2.2" rx="0.6" fill="#000"/>
<rect x="135.00" y="405.20" width="2.2" height="2.2" rx="0.6" fill="#000"/>
<rect x="139.87" y="405.20" width="2.2" height="2.2" rx="0.6" fill="#000"/>
<rect x="144.74" y="405.20" width="2.2" height="2.2" rx="0.6" fill="#000"/>
<rect x="149.61" y="405.20" width="2.2" height="2.2" rx="0.6" fill="#000"/>
<rect x="154.48" y="405.20" width="2.2" height="2.2" rx="0.6" fill="#000"/>
<rect x="159.35" y="405.20" width="2.2" height="2.2" rx="0.6" fill="#000"/>
<rect x="164.22" y="405.20" width="2.2" height="2.2" rx="0.6" fill="#000"/>
<rect x="169.09" y="405.20" width="2.2" height="2.2" rx="0.6" fill="#000"/>
<rect x="173.96" y="405.20" width="2.2" height="2.2" rx="0.6" fill="#000"/>
<rect x="178.83" y="405.20" width="2.2" height="2.2" rx="0.6" fill="#000"/>
<rect x="183.70" y="405.20" width="2.2" height="2.2" rx="0.6" fill="#000"/>
<rect x="188.57" y="405.20" width="2.2" height="2.2" rx="0.6" fill="#000"/>
<rect x="193.44" y="405.20" width="2.2" height="2.2" rx="0.6" fill="#000"/>
<rect x="198.31" y="405.20" width="2.2" height="2.2" rx="0.6" fill="#000"/>
<rect x="203.18" y="405.20" width="2.2" height="2.2" rx="0.6" fill="#000"/>
<rect x="208.05" y="405.20" width="2.2" height="2.2" rx="0.6" fill="#000"/>
<rect x="212.92" y="405.20" width="2.2" height="2.2" rx="0.6" fill="#000"/>
<rect x="217.79" y="405.20" width="2.2" height="2.2" rx="0.6" fill="#000"/>
<rect x="222.66" y="405.20" width="2.2" height="2.2" rx="0.6" fill="#000"/>
<rect x="227.53" y="405.20" width="2.2" height="2.2" rx="0.6" fill="#000"/>
<rect x="232.40" y="405.20" width="2.2" height="2.2" rx="0.6" fill="#000"/>
<rect x="237.27" y="405.20" width="2.2" height="2.2" rx="0.6" fill="#000"/>
<rect x="242.14" y="405.20" width="2.2" height="2.2" rx="0.6" fill="#000"/>
<rect x="247.01" y="405.20" width="2.2" height="2.2" rx="0.6" fill="#000"/>
<rect x="251.88" y="405.20" width="2.2" height="2.2" rx="0.6" fill="#000"/>
<rect x="256.75" y="405.20" width="2.2" height="2.2" rx="0.6" fill="#000"/>
<rect x="261.62" y="405.20" width="2.2" height="2.2" rx="0.6" fill="#000"/>
<rect x="266.49" y="405.20" width="2.2" height="2.2" rx="0.6" fill="#000"/>
<rect x="271.36" y="405.20" width="2.2" height="2.2" rx="0.6" fill="#000"/>
<rect x="158.20" y="310.30" width="2.2" height="2.2" rx="0.6" fill="#000"/>
<rect x="158.20" y="315.17" width="2.2" height="2.2" rx="0.6" fill="#000"/>
<rect x="158.20" y="320.04" width="2.2" height="2.2" rx="0.6" fill="#000"/>
<rect x="158.20" y="324.91" width="2.2" height="2.2" rx="0.6" fill="#000"/>
<rect x="158.20" y="329.78" width="2.2" height="2.2" rx="0.6" fill="#000"/>
<rect x="158.20" y="334.65" width="2.2" height="2.2" rx="0.6" fill="#000"/>
<rect x="158.20" y="339.52" width="2.2" height="2.2" rx="0.6" fill="#000"/>
<rect x="158.20" y="344.39" width="2.2" height="2.2" rx="0.6" fill="#000"/>
<rect x="158.20" y="349.26" width="2.2" height="2.2" rx="0.6" fill="#000"/>
<rect x="158.20" y="354.13" width="2.2" height="2.2" rx="0.6" fill="#000"/>
<rect x="158.20" y="359.00" width="2.2" height="2.2" rx="0.6" fill="#000"/>
<rect x="158.20" y="363.87" width="2.2" height="2.2" rx="0.6" fill="#000"/>
<rect x="158.20" y="368.74" width="2.2" height="2.2" rx="0.6" fill="#000"/>
<rect x="158.20" y="373.61" width="2.2" height="2.2" rx="0.6" fill="#000"/>
<rect x="158.20" y="378.48" width="2.2" height="2.2" rx="0.6" fill="#000"/>
<rect x="158.20" y="383.35" width="2.2" height="2.2" rx="0.6" fill="#000"/>
<rect x="158.20" y="388.22" width="2.2" height="2.2" rx="0.6" fill="#000"/>
<rect x="158.20" y="393.09" width="2.2" height="2.2" rx="0.6" fill="#000"/>
<rect x="158.20" y="397.96" width="2.2" height="2.2" rx="0.6" fill="#000"/>
<rect x="158.20" y="402.83" width="2.2" height="2.2" rx="0.6" fill="#000"/>
<rect x="158.20" y="407.70" width="2.2" height="2.2" rx="0.6" fill="#000"/>
<rect x="158.20" y="412.57" width="2.2" height="2.2" rx="0.6" fill="#000"/>
<rect x="158.20" y="417.44" width="2.2" height="2.2" rx="0.6" fill="#000"/>
<rect x="158.20" y="422.31" width="2.2" height="2.2" rx="0.6" fill="#000"/>
<rect x="158.20" y="427.18" width="2.2" height="2.2" rx="0.6" fill="#000"/>
<rect x="158.20" y="432.05" width="2.2" height="2.2" rx="0.6" fill="#000"/>
<rect x="158.20" y="436.92" width="2.2" height="2.2" rx="0.6" fill="#000"/>
<rect x="158.20" y="441.79" width="2.2" height="2.2" rx="0.6" fill="#000"/>
<rect x="158.20" y="446.66" width="2.2" height="2.2" rx="0.6" fill="#000"/>
<rect x="158.20" y="451.53" width="2.2" height="2.2" rx="0.6" fill="#000"/>
<rect x="158.20" y="456.40" width="2.2" height="2.2" rx="0.6" fill="#000"/>
<rect x="158.20" y="461.27" width="2.2" height="2.2" rx="0.6" fill="#000"/>
<rect x="158.20" y="466.14" width="2.2" height="2.2" rx="0.6" fill="#000"/>
<rect x="158.20" y="471.01" width="2.2" height="2.2" rx="0.6" fill="#000"/>
<rect x="158.20" y="475.88" width="2.2" height="2.2" rx="0.6" fill="#000"/>
<rect x="158.20" y="480.75" width="2.2" height="2.2" rx="0.6" fill="#000"/>
<rect x="158.20" y="485.62" width="2.2" height="2.2" rx="0.6" fill="#000"/>
<rect x="158.20" y="490.49" width="2.2" height="2.2" rx="0.6" fill="#000"/>
<rect x="158.20" y="495.36" width="2.2" height="2.2" rx="0.6" fill="#000"/>
<rect x="158.20" y="500.23" width="2.2" height="2.2" rx="0.6" fill="#000"/>
<circle cx="290.50" cy="319.70" r="2.9" fill="#000"/>
<text x="305.5" y="323.8" font-size="10" text-anchor="start" fill="#1a1a1a" letter-spacing="0.12">WT WC</text>
<circle cx="290.50" cy="338.20" r="2.45" fill="none" stroke="#000" stroke-width="1.25"/>
<text x="305.5" y="342.3" font-size="10" text-anchor="start" fill="#1a1a1a" letter-spacing="0.12">WT OM</text>
<circle cx="290.50" cy="356.70" r="2.9" fill="#86def8"/>
<text x="305.5" y="360.8" font-size="10" text-anchor="start" fill="#1a1a1a" letter-spacing="0.12">NR698 (<tspan font-style="italic">lptD4213</tspan>) WC</text>
<circle cx="290.50" cy="375.20" r="2.45" fill="none" stroke="#86def8" stroke-width="1.25"/>
<text x="305.5" y="379.3" font-size="10" text-anchor="start" fill="#1a1a1a" letter-spacing="0.12">NR698 (<tspan font-style="italic">lptD4213</tspan>) OM</text>
<circle cx="290.50" cy="393.70" r="2.9" fill="#f8287a"/>
<text x="305.5" y="397.8" font-size="10" text-anchor="start" fill="#1a1a1a" letter-spacing="0.12">TN101 (<tspan font-style="italic">mlaA</tspan><tspan font-size="9" dy="-3.2">-</tspan><tspan dy="3.2">) WC</tspan></text>
<circle cx="290.50" cy="412.20" r="2.45" fill="none" stroke="#f8287a" stroke-width="1.25"/>
<text x="305.5" y="416.3" font-size="10" text-anchor="start" fill="#1a1a1a" letter-spacing="0.12">TN101 (<tspan font-style="italic">mlaA</tspan><tspan font-size="9" dy="-3.2">-</tspan><tspan dy="3.2">) OM</tspan></text>
<circle cx="290.50" cy="430.70" r="2.9" fill="#b878fa"/>
<text x="305.5" y="434.8" font-size="10" text-anchor="start" fill="#1a1a1a" letter-spacing="0.12">TN102 (<tspan font-style="italic">pldA</tspan><tspan font-size="9" dy="-3.2">-</tspan><tspan dy="3.2">) WC</tspan></text>
<circle cx="290.50" cy="449.20" r="2.45" fill="none" stroke="#b878fa" stroke-width="1.25"/>
<text x="305.5" y="453.3" font-size="10" text-anchor="start" fill="#1a1a1a" letter-spacing="0.12">TN102 (<tspan font-style="italic">pldA</tspan><tspan font-size="9" dy="-3.2">-</tspan><tspan dy="3.2">) OM</tspan></text>
<circle cx="290.50" cy="467.70" r="2.9" fill="#3c9687"/>
<text x="305.5" y="471.8" font-size="10" text-anchor="start" fill="#1a1a1a" letter-spacing="0.12">TN103 (<tspan font-style="italic">mlaA</tspan><tspan font-size="9" dy="-3.2">-</tspan><tspan dy="3.2"> </tspan><tspan font-style="italic">pldA</tspan><tspan font-size="9" dy="-3.2">-</tspan><tspan dy="3.2">) WC</tspan></text>
<circle cx="290.50" cy="486.20" r="2.45" fill="none" stroke="#3c9687" stroke-width="1.25"/>
<text x="305.5" y="490.3" font-size="10" text-anchor="start" fill="#1a1a1a" letter-spacing="0.12">TN103 (<tspan font-style="italic">mlaA</tspan><tspan font-size="9" dy="-3.2">-</tspan><tspan dy="3.2"> </tspan><tspan font-style="italic">pldA</tspan><tspan font-size="9" dy="-3.2">-</tspan><tspan dy="3.2">) OM</tspan></text>
<text x="0.3" y="603.5" font-size="22.5" text-anchor="start" fill="#000" font-weight="bold">C</text>
<line x1="83.3" y1="608.5" x2="83.3" y2="810.1" stroke="#1a1a1a" stroke-width="1.25"/>
<line x1="73.3" y1="809.5" x2="283.6" y2="809.5" stroke="#1a1a1a" stroke-width="1.25"/>
<line x1="73.4" y1="609.1" x2="83.3" y2="609.1" stroke="#1a1a1a" stroke-width="1.25"/>
<text x="70.3" y="612.4" font-size="9.2" text-anchor="end" fill="#1a1a1a">0.6</text>
<line x1="73.4" y1="642.5500000000001" x2="83.3" y2="642.5500000000001" stroke="#1a1a1a" stroke-width="1.25"/>
<text x="70.3" y="645.85" font-size="9.2" text-anchor="end" fill="#1a1a1a">0.4</text>
<line x1="73.4" y1="676.0" x2="83.3" y2="676.0" stroke="#1a1a1a" stroke-width="1.25"/>
<text x="70.3" y="679.3" font-size="9.2" text-anchor="end" fill="#1a1a1a">0.2</text>
<line x1="73.4" y1="709.45" x2="83.3" y2="709.45" stroke="#1a1a1a" stroke-width="1.25"/>
<text x="70.3" y="712.75" font-size="9.2" text-anchor="end" fill="#1a1a1a">0.0</text>
<line x1="73.4" y1="742.9000000000001" x2="83.3" y2="742.9000000000001" stroke="#1a1a1a" stroke-width="1.25"/>
<text x="70.3" y="746.2" font-size="9.2" text-anchor="end" fill="#1a1a1a">-0.2</text>
<line x1="73.4" y1="776.35" x2="83.3" y2="776.35" stroke="#1a1a1a" stroke-width="1.25"/>
<text x="70.3" y="779.65" font-size="9.2" text-anchor="end" fill="#1a1a1a">-0.4</text>
<line x1="73.4" y1="809.8000000000001" x2="83.3" y2="809.8000000000001" stroke="#1a1a1a" stroke-width="1.25"/>
<text x="70.3" y="813.1" font-size="9.2" text-anchor="end" fill="#1a1a1a">-0.6</text>
<line x1="83.0" y1="809.5" x2="83.0" y2="819.0" stroke="#1a1a1a" stroke-width="1.25"/>
<text x="81.5" y="830.8" font-size="9.0" text-anchor="middle" fill="#1a1a1a">-0.4</text>
<line x1="133.0" y1="809.5" x2="133.0" y2="819.0" stroke="#1a1a1a" stroke-width="1.25"/>
<text x="131.5" y="830.8" font-size="9.0" text-anchor="middle" fill="#1a1a1a">-0.2</text>
<line x1="183.0" y1="809.5" x2="183.0" y2="819.0" stroke="#1a1a1a" stroke-width="1.25"/>
<text x="183.0" y="830.8" font-size="9.0" text-anchor="middle" fill="#1a1a1a">0.0</text>
<line x1="233.0" y1="809.5" x2="233.0" y2="819.0" stroke="#1a1a1a" stroke-width="1.25"/>
<text x="233.0" y="830.8" font-size="9.0" text-anchor="middle" fill="#1a1a1a">0.2</text>
<line x1="283.0" y1="809.5" x2="283.0" y2="819.0" stroke="#1a1a1a" stroke-width="1.25"/>
<text x="283.0" y="830.8" font-size="9.0" text-anchor="middle" fill="#1a1a1a">0.4</text>
<text x="182.7" y="849.2" font-size="12.0" text-anchor="middle" fill="#1a1a1a">PC1 (47.9 %)</text>
<text x="46.0" y="709.8" font-size="12.3" text-anchor="middle" fill="#1a1a1a" transform="rotate(-90 46.0 709.8)">PC2 (30.1 %)</text>
<circle cx="82.95" cy="709.30" r="1.3" fill="#000"/>
<circle cx="90.60" cy="709.30" r="1.3" fill="#000"/>
<circle cx="98.25" cy="709.30" r="1.3" fill="#000"/>
<circle cx="105.90" cy="709.30" r="1.3" fill="#000"/>
<circle cx="113.55" cy="709.30" r="1.3" fill="#000"/>
<circle cx="121.20" cy="709.30" r="1.3" fill="#000"/>
<circle cx="128.85" cy="709.30" r="1.3" fill="#000"/>
<circle cx="136.50" cy="709.30" r="1.3" fill="#000"/>
<circle cx="144.15" cy="709.30" r="1.3" fill="#000"/>
<circle cx="151.80" cy="709.30" r="1.3" fill="#000"/>
<circle cx="159.45" cy="709.30" r="1.3" fill="#000"/>
<circle cx="167.10" cy="709.30" r="1.3" fill="#000"/>
<circle cx="174.75" cy="709.30" r="1.3" fill="#000"/>
<circle cx="182.40" cy="709.30" r="1.3" fill="#000"/>
<circle cx="190.05" cy="709.30" r="1.3" fill="#000"/>
<circle cx="197.70" cy="709.30" r="1.3" fill="#000"/>
<circle cx="205.35" cy="709.30" r="1.3" fill="#000"/>
<circle cx="213.00" cy="709.30" r="1.3" fill="#000"/>
<circle cx="220.65" cy="709.30" r="1.3" fill="#000"/>
<circle cx="228.30" cy="709.30" r="1.3" fill="#000"/>
<circle cx="235.95" cy="709.30" r="1.3" fill="#000"/>
<circle cx="243.60" cy="709.30" r="1.3" fill="#000"/>
<circle cx="251.25" cy="709.30" r="1.3" fill="#000"/>
<circle cx="258.90" cy="709.30" r="1.3" fill="#000"/>
<circle cx="266.55" cy="709.30" r="1.3" fill="#000"/>
<circle cx="274.20" cy="709.30" r="1.3" fill="#000"/>
<circle cx="281.85" cy="709.30" r="1.3" fill="#000"/>
<circle cx="183.40" cy="609.50" r="1.3" fill="#000"/>
<circle cx="183.40" cy="617.10" r="1.3" fill="#000"/>
<circle cx="183.40" cy="624.70" r="1.3" fill="#000"/>
<circle cx="183.40" cy="632.30" r="1.3" fill="#000"/>
<circle cx="183.40" cy="639.90" r="1.3" fill="#000"/>
<circle cx="183.40" cy="647.50" r="1.3" fill="#000"/>
<circle cx="183.40" cy="655.10" r="1.3" fill="#000"/>
<circle cx="183.40" cy="662.70" r="1.3" fill="#000"/>
<circle cx="183.40" cy="670.30" r="1.3" fill="#000"/>
<circle cx="183.40" cy="677.90" r="1.3" fill="#000"/>
<circle cx="183.40" cy="685.50" r="1.3" fill="#000"/>
<circle cx="183.40" cy="693.10" r="1.3" fill="#000"/>
<circle cx="183.40" cy="700.70" r="1.3" fill="#000"/>
<circle cx="183.40" cy="708.30" r="1.3" fill="#000"/>
<circle cx="183.40" cy="715.90" r="1.3" fill="#000"/>
<circle cx="183.40" cy="723.50" r="1.3" fill="#000"/>
<circle cx="183.40" cy="731.10" r="1.3" fill="#000"/>
<circle cx="183.40" cy="738.70" r="1.3" fill="#000"/>
<circle cx="183.40" cy="746.30" r="1.3" fill="#000"/>
<circle cx="183.40" cy="753.90" r="1.3" fill="#000"/>
<circle cx="183.40" cy="761.50" r="1.3" fill="#000"/>
<circle cx="183.40" cy="769.10" r="1.3" fill="#000"/>
<circle cx="183.40" cy="776.70" r="1.3" fill="#000"/>
<circle cx="183.40" cy="784.30" r="1.3" fill="#000"/>
<circle cx="183.40" cy="791.90" r="1.3" fill="#000"/>
<circle cx="183.40" cy="799.50" r="1.3" fill="#000"/>
<circle cx="183.40" cy="807.10" r="1.3" fill="#000"/>
<circle cx="143.90" cy="699.30" r="1.5" fill="#6dcdee"/>
<circle cx="156.30" cy="702.60" r="1.5" fill="#6dcdee"/>
<circle cx="160.00" cy="703.40" r="1.5" fill="#6dcdee"/>
<circle cx="168.00" cy="703.70" r="1.5" fill="#6dcdee"/>
<circle cx="169.10" cy="708.20" r="1.5" fill="#6dcdee"/>
<circle cx="173.10" cy="710.10" r="1.5" fill="#6dcdee"/>
<circle cx="174.70" cy="711.70" r="1.5" fill="#6dcdee"/>
<circle cx="167.50" cy="719.10" r="1.5" fill="#6dcdee"/>
<circle cx="157.10" cy="721.00" r="1.5" fill="#6dcdee"/>
<circle cx="158.40" cy="721.80" r="1.5" fill="#6dcdee"/>
<circle cx="178.00" cy="722.30" r="1.5" fill="#6dcdee"/>
<circle cx="180.40" cy="721.00" r="1.5" fill="#6dcdee"/>
<circle cx="193.90" cy="706.80" r="1.5" fill="#6dcdee"/>
<circle cx="167.60" cy="703.10" r="1.5" fill="#6dcdee"/>
<circle cx="168.80" cy="704.30" r="1.5" fill="#6dcdee"/>
<circle cx="173.40" cy="709.90" r="1.5" fill="#6dcdee"/>
<circle cx="174.60" cy="712.20" r="1.5" fill="#6dcdee"/>
<circle cx="172.30" cy="712.50" r="1.5" fill="#6dcdee"/>
<circle cx="167.90" cy="719.20" r="1.5" fill="#6dcdee"/>
<circle cx="179.90" cy="721.50" r="1.5" fill="#6dcdee"/>
<circle cx="177.50" cy="722.70" r="1.5" fill="#6dcdee"/>
<circle cx="160.60" cy="703.40" r="1.5" fill="#6dcdee"/>
<circle cx="188.60" cy="710.40" r="1.5" fill="#6dcdee"/>
<circle cx="108.60" cy="687.30" r="1.5" fill="#2a8172"/>
<circle cx="136.70" cy="698.10" r="1.5" fill="#2a8172"/>
<circle cx="149.10" cy="697.70" r="1.5" fill="#2a8172"/>
<circle cx="150.30" cy="696.10" r="1.5" fill="#2a8172"/>
<circle cx="157.10" cy="696.60" r="1.5" fill="#2a8172"/>
<circle cx="157.40" cy="699.30" r="1.5" fill="#2a8172"/>
<circle cx="163.20" cy="699.80" r="1.5" fill="#2a8172"/>
<circle cx="171.20" cy="703.00" r="1.5" fill="#2a8172"/>
<circle cx="158.40" cy="707.90" r="1.5" fill="#2a8172"/>
<circle cx="157.90" cy="711.70" r="1.5" fill="#2a8172"/>
<circle cx="163.50" cy="711.40" r="1.5" fill="#2a8172"/>
<circle cx="166.70" cy="712.20" r="1.5" fill="#2a8172"/>
<circle cx="168.00" cy="707.90" r="1.5" fill="#2a8172"/>
<circle cx="169.10" cy="706.30" r="1.5" fill="#2a8172"/>
<circle cx="174.70" cy="706.60" r="1.5" fill="#2a8172"/>
<circle cx="176.40" cy="708.20" r="1.5" fill="#2a8172"/>
<circle cx="178.00" cy="712.20" r="1.5" fill="#2a8172"/>
<circle cx="179.60" cy="710.60" r="1.5" fill="#2a8172"/>
<circle cx="176.40" cy="705.80" r="1.5" fill="#2a8172"/>
<circle cx="175.60" cy="709.80" r="1.5" fill="#2a8172"/>
<circle cx="167.50" cy="716.20" r="1.5" fill="#2a8172"/>
<circle cx="177.20" cy="716.50" r="1.5" fill="#2a8172"/>
<circle cx="137.50" cy="713.50" r="1.5" fill="#2a8172"/>
<circle cx="129.80" cy="720.20" r="1.5" fill="#2a8172"/>
<circle cx="125.00" cy="724.60" r="1.5" fill="#2a8172"/>
<circle cx="172.80" cy="721.50" r="1.5" fill="#2a8172"/>
<circle cx="174.40" cy="725.50" r="1.5" fill="#2a8172"/>
<circle cx="179.60" cy="725.80" r="1.5" fill="#2a8172"/>
<circle cx="172.30" cy="729.40" r="1.5" fill="#2a8172"/>
<circle cx="161.10" cy="731.00" r="1.5" fill="#2a8172"/>
<circle cx="165.40" cy="731.00" r="1.5" fill="#2a8172"/>
<circle cx="131.70" cy="746.40" r="1.5" fill="#2a8172"/>
<circle cx="163.50" cy="700.20" r="1.5" fill="#2a8172"/>
<circle cx="171.40" cy="702.60" r="1.5" fill="#2a8172"/>
<circle cx="171.40" cy="707.00" r="1.5" fill="#2a8172"/>
<circle cx="169.60" cy="709.30" r="1.5" fill="#2a8172"/>
<circle cx="163.50" cy="711.60" r="1.5" fill="#2a8172"/>
<circle cx="166.40" cy="713.10" r="1.5" fill="#2a8172"/>
<circle cx="167.60" cy="716.60" r="1.5" fill="#2a8172"/>
<circle cx="176.90" cy="716.90" r="1.5" fill="#2a8172"/>
<circle cx="172.80" cy="721.50" r="1.5" fill="#2a8172"/>
<circle cx="175.00" cy="704.50" r="1.5" fill="#2a8172"/>
<circle cx="177.00" cy="704.00" r="1.5" fill="#2a8172"/>
<circle cx="179.00" cy="705.50" r="1.5" fill="#2a8172"/>
<circle cx="176.00" cy="706.50" r="1.5" fill="#2a8172"/>
<circle cx="178.00" cy="707.00" r="1.5" fill="#2a8172"/>
<circle cx="180.00" cy="707.50" r="1.5" fill="#2a8172"/>
<circle cx="175.50" cy="709.00" r="1.5" fill="#2a8172"/>
<circle cx="177.50" cy="709.50" r="1.5" fill="#2a8172"/>
<circle cx="179.50" cy="709.50" r="1.5" fill="#2a8172"/>
<circle cx="181.50" cy="709.00" r="1.5" fill="#2a8172"/>
<circle cx="176.50" cy="711.50" r="1.5" fill="#2a8172"/>
<circle cx="178.50" cy="711.50" r="1.5" fill="#2a8172"/>
<circle cx="180.50" cy="712.00" r="1.5" fill="#2a8172"/>
<circle cx="178.00" cy="713.50" r="1.5" fill="#2a8172"/>
<circle cx="180.00" cy="714.00" r="1.5" fill="#2a8172"/>
<circle cx="181.50" cy="714.50" r="1.5" fill="#2a8172"/>
<circle cx="182.00" cy="711.50" r="1.5" fill="#2a8172"/>
<circle cx="234.50" cy="628.10" r="1.5" fill="#eb1a62"/>
<circle cx="194.10" cy="683.10" r="1.5" fill="#eb1a62"/>
<circle cx="224.50" cy="683.50" r="1.5" fill="#eb1a62"/>
<circle cx="234.50" cy="693.00" r="1.5" fill="#eb1a62"/>
<circle cx="197.50" cy="689.20" r="1.5" fill="#eb1a62"/>
<circle cx="176.30" cy="681.00" r="1.5" fill="#eb1a62"/>
<circle cx="181.80" cy="690.10" r="1.5" fill="#eb1a62"/>
<circle cx="199.40" cy="698.70" r="1.5" fill="#eb1a62"/>
<circle cx="184.10" cy="698.50" r="1.5" fill="#eb1a62"/>
<circle cx="186.00" cy="699.30" r="1.5" fill="#eb1a62"/>
<circle cx="185.20" cy="705.00" r="1.5" fill="#eb1a62"/>
<circle cx="186.80" cy="708.20" r="1.5" fill="#eb1a62"/>
<circle cx="184.40" cy="711.40" r="1.5" fill="#eb1a62"/>
<circle cx="186.00" cy="714.60" r="1.5" fill="#eb1a62"/>
<circle cx="187.30" cy="717.00" r="1.5" fill="#eb1a62"/>
<circle cx="193.90" cy="683.30" r="1.5" fill="#eb1a62"/>
<circle cx="199.70" cy="700.10" r="1.5" fill="#eb1a62"/>
<circle cx="193.50" cy="701.60" r="1.5" fill="#eb1a62"/>
<circle cx="190.60" cy="709.20" r="1.5" fill="#eb1a62"/>
<circle cx="195.60" cy="712.70" r="1.5" fill="#eb1a62"/>
<circle cx="198.00" cy="712.10" r="1.5" fill="#eb1a62"/>
<circle cx="200.60" cy="712.90" r="1.5" fill="#eb1a62"/>
<circle cx="187.10" cy="717.60" r="1.5" fill="#eb1a62"/>
<circle cx="191.50" cy="720.00" r="1.5" fill="#eb1a62"/>
<circle cx="197.60" cy="722.30" r="1.5" fill="#eb1a62"/>
<circle cx="208.50" cy="719.50" r="1.5" fill="#eb1a62"/>
<circle cx="198.50" cy="727.00" r="1.5" fill="#eb1a62"/>
<circle cx="202.30" cy="732.00" r="1.5" fill="#eb1a62"/>
<circle cx="234.40" cy="692.80" r="1.5" fill="#eb1a62"/>
<circle cx="277.30" cy="720.50" r="1.5" fill="#eb1a62"/>
<circle cx="224.40" cy="742.30" r="1.5" fill="#eb1a62"/>
<circle cx="214.00" cy="749.90" r="1.5" fill="#eb1a62"/>
<circle cx="246.60" cy="779.20" r="1.5" fill="#eb1a62"/>
<circle cx="208.80" cy="719.30" r="1.5" fill="#eb1a62"/>
<circle cx="198.40" cy="726.90" r="1.5" fill="#eb1a62"/>
<circle cx="202.10" cy="731.90" r="1.5" fill="#eb1a62"/>
<circle cx="191.70" cy="720.10" r="1.5" fill="#eb1a62"/>
<circle cx="181.90" cy="690.60" r="1.5" fill="#eb1a62"/>
<circle cx="193.30" cy="702.00" r="1.5" fill="#eb1a62"/>
<circle cx="190.40" cy="709.30" r="1.5" fill="#eb1a62"/>
<circle cx="187.40" cy="718.00" r="1.5" fill="#eb1a62"/>
<circle cx="191.80" cy="720.10" r="1.5" fill="#eb1a62"/>
<circle cx="196.80" cy="712.50" r="1.5" fill="#eb1a62"/>
<circle cx="198.50" cy="700.00" r="1.5" fill="#eb1a62"/>
<circle cx="182.50" cy="698.00" r="1.5" fill="#eb1a62"/>
<circle cx="184.00" cy="699.50" r="1.5" fill="#eb1a62"/>
<circle cx="186.00" cy="698.50" r="1.5" fill="#eb1a62"/>
<circle cx="183.00" cy="701.00" r="1.5" fill="#eb1a62"/>
<circle cx="185.50" cy="701.50" r="1.5" fill="#eb1a62"/>
<circle cx="187.00" cy="700.50" r="1.5" fill="#eb1a62"/>
<circle cx="183.00" cy="705.00" r="1.5" fill="#eb1a62"/>
<circle cx="185.00" cy="704.50" r="1.5" fill="#eb1a62"/>
<circle cx="187.50" cy="705.00" r="1.5" fill="#eb1a62"/>
<circle cx="182.80" cy="707.00" r="1.5" fill="#eb1a62"/>
<circle cx="184.80" cy="707.50" r="1.5" fill="#eb1a62"/>
<circle cx="187.00" cy="707.50" r="1.5" fill="#eb1a62"/>
<circle cx="188.50" cy="708.00" r="1.5" fill="#eb1a62"/>
<circle cx="183.00" cy="710.00" r="1.5" fill="#eb1a62"/>
<circle cx="185.50" cy="710.00" r="1.5" fill="#eb1a62"/>
<circle cx="187.50" cy="710.50" r="1.5" fill="#eb1a62"/>
<circle cx="183.00" cy="712.50" r="1.5" fill="#eb1a62"/>
<circle cx="185.00" cy="712.50" r="1.5" fill="#eb1a62"/>
<circle cx="187.50" cy="712.50" r="1.5" fill="#eb1a62"/>
<circle cx="184.00" cy="714.50" r="1.5" fill="#eb1a62"/>
<circle cx="186.50" cy="715.00" r="1.5" fill="#eb1a62"/>
<circle cx="185.00" cy="716.50" r="1.5" fill="#eb1a62"/>
<circle cx="188.00" cy="713.50" r="1.5" fill="#eb1a62"/>
<circle cx="183.40" cy="709.00" r="1.6" fill="#111"/>
<circle cx="203.80" cy="688.60" r="1.3" fill="none" stroke="#eb1a62" stroke-width="0.8"/>
<circle cx="215.00" cy="690.10" r="1.3" fill="none" stroke="#eb1a62" stroke-width="0.8"/>
<circle cx="204.70" cy="693.90" r="1.3" fill="none" stroke="#eb1a62" stroke-width="0.8"/>
<circle cx="191.40" cy="705.20" r="1.3" fill="none" stroke="#eb1a62" stroke-width="0.8"/>
<text x="239.7" y="630.7" font-size="7.5" text-anchor="start" fill="#222">PE(16:0_16:1)</text>
<text x="188.0" y="679.1" font-size="7.5" text-anchor="start" fill="#222">PE(14:0_16:0)</text>
<text x="227.3" y="686.3" font-size="7.5" text-anchor="start" fill="#222">PE(16:0_16:0)</text>
<text x="237.8" y="695.0" font-size="7.5" text-anchor="start" fill="#222">PE(cy17:0_16:0)</text>
<text x="206.7" y="701.5" font-size="7.5" text-anchor="start" fill="#222">LPE(18:1)</text>
<text x="133.0" y="677.5" font-size="7.5" text-anchor="start" fill="#222">PE(14:0_16:1)</text>
<text x="88.8" y="682.8" font-size="7.5" text-anchor="start" fill="#222">PG(16:0_16:1)</text>
<text x="88.6" y="733.0" font-size="7.5" text-anchor="start" fill="#222">PG(16:0_18:1)</text>
<text x="95.3" y="755.1" font-size="7.5" text-anchor="start" fill="#222">PG(18:1_18:1)</text>
<text x="252.1" y="729.1" font-size="7.5" text-anchor="start" fill="#222">PE(16:0_18:1)</text>
<text x="228.1" y="745.0" font-size="7.5" text-anchor="start" fill="#222">PE(16:1_18:1)</text>
<text x="217.7" y="752.2" font-size="7.5" text-anchor="start" fill="#222">PE(cy17:0_18:1)</text>
<text x="249.6" y="781.7" font-size="7.5" text-anchor="start" fill="#222">PE(18:1_18:1)</text>
<circle cx="322.20" cy="657.20" r="1.5" fill="#111"/>
<text x="328.4" y="660.8000000000001" font-size="10" text-anchor="start" fill="#1a1a1a">FFA</text>
<circle cx="322.20" cy="676.78" r="1.35" fill="none" stroke="#eb1a62" stroke-width="0.8"/>
<text x="328.4" y="680.3800000000001" font-size="10" text-anchor="start" fill="#1a1a1a">LPE</text>
<circle cx="322.20" cy="696.36" r="1.35" fill="none" stroke="#3a8f82" stroke-width="0.8"/>
<text x="328.4" y="699.96" font-size="10" text-anchor="start" fill="#1a1a1a">LPG</text>
<circle cx="322.20" cy="715.94" r="1.5" fill="#eb1a62"/>
<text x="328.4" y="719.5400000000001" font-size="10" text-anchor="start" fill="#1a1a1a">PE</text>
<circle cx="322.20" cy="735.52" r="1.5" fill="#2a8172"/>
<text x="328.4" y="739.12" font-size="10" text-anchor="start" fill="#1a1a1a">PG</text>
<circle cx="322.20" cy="755.10" r="1.5" fill="#6dcdee"/>
<text x="328.4" y="758.7" font-size="10" text-anchor="start" fill="#1a1a1a">CL</text>
<text x="445.3" y="16.9" font-size="22.5" text-anchor="start" fill="#000" font-weight="bold">D</text>
<text x="583.4" y="57.6" font-size="11.4" text-anchor="start" fill="#1a1a1a">Mutant strains</text>
<line x1="550.2" y1="65.9" x2="680.8" y2="65.9" stroke="#555" stroke-width="1.3"/>
<text x="516.6" y="92.2" font-size="9.2" text-anchor="start" fill="#1a1a1a">WT</text>
<text x="551.3" y="94.1" font-size="9.4" text-anchor="start" fill="#1a1a1a" transform="rotate(-30 551.3 94.1)">NR698</text>
<text x="585.6" y="95.0" font-size="9.4" text-anchor="start" fill="#1a1a1a" transform="rotate(-30 585.6 95.0)">TN101</text>
<text x="622.3" y="95.0" font-size="9.4" text-anchor="start" fill="#1a1a1a" transform="rotate(-30 622.3 95.0)">TN102</text>
<text x="660.0" y="94.9" font-size="9.4" text-anchor="start" fill="#1a1a1a" transform="rotate(-30 660.0 94.9)">TN103</text>
<rect x="500.5" y="101.0" width="180.2" height="146.4" fill="none" stroke="#666" stroke-width="1.1"/>
<rect x="499.4" y="100.5" width="4.5" height="147.4" fill="#000"/>
<rect x="516.40" y="102.25" width="12.20" height="1.7" fill="#c9543f"/>
<rect x="517.05" y="106.09" width="10.90" height="1.7" fill="#c35844"/>
<rect x="514.20" y="109.93" width="16.60" height="1.7" fill="#db472f"/>
<rect x="512.25" y="113.76" width="20.50" height="1.7" fill="#db472f"/>
<rect x="518.05" y="117.60" width="8.90" height="1.7" fill="#bc5a49"/>
<rect x="513.10" y="121.44" width="18.80" height="1.7" fill="#f3301a"/>
<rect x="510.25" y="125.28" width="24.50" height="1.7" fill="#f92a14"/>
<rect x="513.10" y="129.12" width="18.80" height="1.7" fill="#ff230f"/>
<rect x="514.45" y="132.95" width="16.10" height="1.7" fill="#ff230f"/>
<rect x="510.25" y="136.79" width="24.50" height="1.7" fill="#e2432a"/>
<rect x="509.00" y="140.63" width="27.00" height="1.7" fill="#ff230f"/>
<rect x="508.35" y="144.47" width="28.30" height="1.7" fill="#ff230f"/>
<rect x="508.90" y="148.31" width="27.20" height="1.7" fill="#f3301a"/>
<rect x="508.35" y="152.14" width="28.30" height="1.7" fill="#ff230f"/>
<rect x="510.25" y="155.98" width="24.50" height="1.7" fill="#ed371f"/>
<rect x="517.25" y="159.82" width="10.50" height="1.7" fill="#b45d4d"/>
<rect x="508.35" y="163.66" width="28.30" height="1.7" fill="#ff230f"/>
<rect x="508.90" y="167.50" width="27.20" height="1.7" fill="#ff230f"/>
<rect x="508.90" y="171.33" width="27.20" height="1.7" fill="#ff230f"/>
<rect x="517.55" y="175.17" width="9.90" height="1.7" fill="#b45d4d"/>
<rect x="511.15" y="179.01" width="22.70" height="1.7" fill="#db472f"/>
<rect x="510.25" y="182.85" width="24.50" height="1.7" fill="#e2432a"/>
<rect x="508.90" y="186.69" width="27.20" height="1.7" fill="#ff230f"/>
<rect x="510.90" y="190.52" width="23.20" height="1.7" fill="#ff230f"/>
<rect x="508.90" y="194.36" width="27.20" height="1.7" fill="#ff230f"/>
<rect x="513.90" y="198.20" width="17.20" height="1.7" fill="#e2432a"/>
<rect x="516.75" y="202.04" width="11.50" height="1.7" fill="#bc5a49"/>
<rect x="520.30" y="205.88" width="4.40" height="1.7" fill="#73648f"/>
<rect x="514.25" y="209.71" width="16.50" height="1.7" fill="#d54b34"/>
<rect x="512.50" y="213.55" width="20.00" height="1.7" fill="#ed371f"/>
<rect x="521.65" y="217.39" width="1.70" height="1.7" fill="#757575"/>
<rect x="513.35" y="221.23" width="18.30" height="1.7" fill="#f92a14"/>
<rect x="512.90" y="225.07" width="19.20" height="1.7" fill="#ff230f"/>
<rect x="510.00" y="228.90" width="25.00" height="1.7" fill="#f92a14"/>
<rect x="509.15" y="232.74" width="26.70" height="1.7" fill="#ff230f"/>
<rect x="510.00" y="236.58" width="25.00" height="1.7" fill="#ff230f"/>
<rect x="513.55" y="240.42" width="17.90" height="1.7" fill="#db472f"/>
<rect x="512.50" y="244.26" width="20.00" height="1.7" fill="#cf4f3a"/>
<rect x="554.60" y="102.25" width="12.20" height="1.7" fill="#c9543f"/>
<rect x="553.40" y="106.09" width="14.60" height="1.7" fill="#cf4f3a"/>
<rect x="547.75" y="109.93" width="25.90" height="1.7" fill="#ed371f"/>
<rect x="548.90" y="113.76" width="23.60" height="1.7" fill="#e2432a"/>
<rect x="558.35" y="117.60" width="4.70" height="1.7" fill="#966860"/>
<rect x="554.30" y="121.44" width="12.80" height="1.7" fill="#bc5a49"/>
<rect x="550.05" y="125.28" width="21.30" height="1.7" fill="#d54b34"/>
<rect x="551.15" y="129.12" width="19.10" height="1.7" fill="#c9543f"/>
<rect x="554.15" y="132.95" width="13.10" height="1.7" fill="#b45d4d"/>
<rect x="549.25" y="136.79" width="22.90" height="1.7" fill="#db472f"/>
<rect x="547.25" y="140.63" width="26.90" height="1.7" fill="#ff230f"/>
<rect x="547.10" y="144.47" width="27.20" height="1.7" fill="#ff230f"/>
<rect x="549.15" y="148.31" width="23.10" height="1.7" fill="#c9543f"/>
<rect x="547.25" y="152.14" width="26.90" height="1.7" fill="#f3301a"/>
<rect x="548.05" y="155.98" width="25.30" height="1.7" fill="#e2432a"/>
<rect x="550.35" y="159.82" width="20.70" height="1.7" fill="#bc5a49"/>
<rect x="547.95" y="163.66" width="25.50" height="1.7" fill="#f92a14"/>
<rect x="550.90" y="167.50" width="19.60" height="1.7" fill="#ed371f"/>
<rect x="549.90" y="171.33" width="21.60" height="1.7" fill="#f92a14"/>
<rect x="559.85" y="175.17" width="1.70" height="1.7" fill="#866e6b"/>
<rect x="550.70" y="179.01" width="20.00" height="1.7" fill="#d54b34"/>
<rect x="550.70" y="182.85" width="20.00" height="1.7" fill="#d54b34"/>
<rect x="547.10" y="186.69" width="27.20" height="1.7" fill="#ff230f"/>
<rect x="549.75" y="190.52" width="21.90" height="1.7" fill="#ff230f"/>
<rect x="547.10" y="194.36" width="27.20" height="1.7" fill="#ff230f"/>
<rect x="553.50" y="198.20" width="14.40" height="1.7" fill="#e2432a"/>
<rect x="551.45" y="202.04" width="18.50" height="1.7" fill="#bc5a49"/>
<rect x="558.35" y="205.88" width="4.70" height="1.7" fill="#73648f"/>
<rect x="553.20" y="209.71" width="15.00" height="1.7" fill="#db472f"/>
<rect x="552.50" y="213.55" width="16.40" height="1.7" fill="#ed371f"/>
<rect x="556.05" y="217.39" width="9.30" height="1.7" fill="#c35844"/>
<rect x="553.65" y="221.23" width="14.10" height="1.7" fill="#f3301a"/>
<rect x="554.05" y="225.07" width="13.30" height="1.7" fill="#f3301a"/>
<rect x="553.65" y="228.90" width="14.10" height="1.7" fill="#db472f"/>
<rect x="551.40" y="232.74" width="18.60" height="1.7" fill="#e2432a"/>
<rect x="552.80" y="236.58" width="15.80" height="1.7" fill="#f3301a"/>
<rect x="554.25" y="240.42" width="12.90" height="1.7" fill="#cf4f3a"/>
<rect x="553.50" y="244.26" width="14.40" height="1.7" fill="#cf4f3a"/>
<rect x="588.00" y="102.25" width="15.00" height="1.7" fill="#db472f"/>
<rect x="589.60" y="106.09" width="11.80" height="1.7" fill="#cf4f3a"/>
<rect x="583.40" y="109.93" width="24.20" height="1.7" fill="#ff230f"/>
<rect x="586.05" y="113.76" width="18.90" height="1.7" fill="#e2432a"/>
<rect x="594.60" y="117.60" width="1.80" height="1.7" fill="#757575"/>
<rect x="587.20" y="121.44" width="16.60" height="1.7" fill="#cf4f3a"/>
<rect x="587.20" y="125.28" width="16.60" height="1.7" fill="#c35844"/>
<rect x="588.00" y="129.12" width="15.00" height="1.7" fill="#c35844"/>
<rect x="587.30" y="132.95" width="16.40" height="1.7" fill="#c35844"/>
<rect x="589.90" y="136.79" width="11.20" height="1.7" fill="#e2432a"/>
<rect x="588.15" y="140.63" width="14.70" height="1.7" fill="#f3301a"/>
<rect x="589.00" y="144.47" width="13.00" height="1.7" fill="#f92a14"/>
<rect x="588.90" y="148.31" width="13.20" height="1.7" fill="#f3301a"/>
<rect x="589.00" y="152.14" width="13.00" height="1.7" fill="#e83d25"/>
<rect x="589.50" y="155.98" width="12.00" height="1.7" fill="#cf4f3a"/>
<rect x="593.45" y="159.82" width="4.10" height="1.7" fill="#a66256"/>
<rect x="588.90" y="163.66" width="13.20" height="1.7" fill="#f92a14"/>
<rect x="588.20" y="167.50" width="14.60" height="1.7" fill="#e2432a"/>
<rect x="588.20" y="171.33" width="14.60" height="1.7" fill="#e2432a"/>
<rect x="592.65" y="175.17" width="5.70" height="1.7" fill="#b45d4d"/>
<rect x="591.05" y="179.01" width="8.90" height="1.7" fill="#b45d4d"/>
<rect x="588.70" y="182.85" width="13.60" height="1.7" fill="#c9543f"/>
<rect x="584.70" y="186.69" width="21.60" height="1.7" fill="#ff230f"/>
<rect x="582.70" y="190.52" width="25.60" height="1.7" fill="#ff230f"/>
<rect x="585.75" y="194.36" width="19.50" height="1.7" fill="#e2432a"/>
<rect x="588.00" y="198.20" width="15.00" height="1.7" fill="#f3301a"/>
<rect x="595.00" y="202.04" width="1.00" height="1.7" fill="#866e6b"/>
<rect x="591.65" y="205.88" width="7.70" height="1.7" fill="#6f53af"/>
<rect x="586.25" y="209.71" width="18.50" height="1.7" fill="#db472f"/>
<rect x="587.05" y="213.55" width="16.90" height="1.7" fill="#db472f"/>
<rect x="591.15" y="217.39" width="8.70" height="1.7" fill="#bc5a49"/>
<rect x="583.10" y="221.23" width="24.80" height="1.7" fill="#e2432a"/>
<rect x="586.70" y="225.07" width="17.60" height="1.7" fill="#d54b34"/>
<rect x="590.00" y="228.90" width="11.00" height="1.7" fill="#c35844"/>
<rect x="588.00" y="232.74" width="15.00" height="1.7" fill="#d54b34"/>
<rect x="586.70" y="236.58" width="17.60" height="1.7" fill="#db472f"/>
<rect x="590.00" y="240.42" width="11.00" height="1.7" fill="#c35844"/>
<rect x="590.75" y="244.26" width="9.50" height="1.7" fill="#bc5a49"/>
<rect x="630.10" y="102.25" width="1.00" height="1.7" fill="#623bdd"/>
<rect x="630.10" y="106.09" width="1.00" height="1.7" fill="#757575"/>
<rect x="623.10" y="109.93" width="15.00" height="1.7" fill="#b45d4d"/>
<rect x="625.00" y="113.76" width="11.20" height="1.7" fill="#bc5a49"/>
<rect x="630.10" y="117.60" width="1.00" height="1.7" fill="#757575"/>
<rect x="625.25" y="121.44" width="10.70" height="1.7" fill="#b45d4d"/>
<rect x="626.25" y="125.28" width="8.70" height="1.7" fill="#bc5a49"/>
<rect x="628.90" y="129.12" width="3.40" height="1.7" fill="#9e655b"/>
<rect x="629.20" y="132.95" width="2.80" height="1.7" fill="#9e655b"/>
<rect x="625.10" y="136.79" width="11.00" height="1.7" fill="#c35844"/>
<rect x="618.70" y="140.63" width="23.80" height="1.7" fill="#e2432a"/>
<rect x="621.40" y="144.47" width="18.40" height="1.7" fill="#de452d"/>
<rect x="623.85" y="148.31" width="13.50" height="1.7" fill="#bc5a49"/>
<rect x="622.30" y="152.14" width="16.60" height="1.7" fill="#d54b34"/>
<rect x="623.85" y="155.98" width="13.50" height="1.7" fill="#c55642"/>
<rect x="625.85" y="159.82" width="9.50" height="1.7" fill="#b45d4d"/>
<rect x="617.70" y="163.66" width="25.80" height="1.7" fill="#ed371f"/>
<rect x="617.20" y="167.50" width="26.80" height="1.7" fill="#ea3a23"/>
<rect x="617.20" y="171.33" width="26.80" height="1.7" fill="#e83d25"/>
<rect x="623.30" y="175.17" width="14.60" height="1.7" fill="#c35844"/>
<rect x="619.60" y="179.01" width="22.00" height="1.7" fill="#cf4f3a"/>
<rect x="621.10" y="182.85" width="19.00" height="1.7" fill="#cc523d"/>
<rect x="620.25" y="186.69" width="20.70" height="1.7" fill="#d94931"/>
<rect x="617.20" y="190.52" width="26.80" height="1.7" fill="#df442c"/>
<rect x="621.10" y="194.36" width="19.00" height="1.7" fill="#d94931"/>
<rect x="629.20" y="198.20" width="2.80" height="1.7" fill="#9e655b"/>
<rect x="623.40" y="202.04" width="14.40" height="1.7" fill="#c55642"/>
<rect x="626.90" y="205.88" width="7.40" height="1.7" fill="#866e6b"/>
<rect x="624.30" y="209.71" width="12.60" height="1.7" fill="#c55642"/>
<rect x="626.40" y="213.55" width="8.40" height="1.7" fill="#c55642"/>
<rect x="630.00" y="217.39" width="1.20" height="1.7" fill="#623bdd"/>
<rect x="623.30" y="221.23" width="14.60" height="1.7" fill="#c35844"/>
<rect x="623.30" y="225.07" width="14.60" height="1.7" fill="#c35844"/>
<rect x="623.30" y="228.90" width="14.60" height="1.7" fill="#bf5a47"/>
<rect x="623.30" y="232.74" width="14.60" height="1.7" fill="#bf5a47"/>
<rect x="621.60" y="236.58" width="18.00" height="1.7" fill="#cf4f3a"/>
<rect x="621.10" y="240.42" width="19.00" height="1.7" fill="#cf4f3a"/>
<rect x="624.30" y="244.26" width="12.60" height="1.7" fill="#c55642"/>
<rect x="661.95" y="102.25" width="6.90" height="1.7" fill="#ad6052"/>
<rect x="660.90" y="106.09" width="9.00" height="1.7" fill="#a66256"/>
<rect x="659.40" y="109.93" width="12.00" height="1.7" fill="#c9543f"/>
<rect x="661.55" y="113.76" width="7.70" height="1.7" fill="#ad6052"/>
<rect x="664.80" y="117.60" width="1.20" height="1.7" fill="#746d82"/>
<rect x="662.10" y="121.44" width="6.60" height="1.7" fill="#a66256"/>
<rect x="663.80" y="125.28" width="3.20" height="1.7" fill="#7d7270"/>
<rect x="664.90" y="129.12" width="1.00" height="1.7" fill="#757575"/>
<rect x="664.90" y="132.95" width="1.00" height="1.7" fill="#757575"/>
<rect x="660.65" y="136.79" width="9.50" height="1.7" fill="#b45d4d"/>
<rect x="660.05" y="140.63" width="10.70" height="1.7" fill="#cf4f3a"/>
<rect x="658.90" y="144.47" width="13.00" height="1.7" fill="#db472f"/>
<rect x="660.65" y="148.31" width="9.50" height="1.7" fill="#ad6052"/>
<rect x="660.40" y="152.14" width="10.00" height="1.7" fill="#ad6052"/>
<rect x="660.95" y="155.98" width="8.90" height="1.7" fill="#a66256"/>
<rect x="664.00" y="159.82" width="2.80" height="1.7" fill="#757575"/>
<rect x="660.10" y="163.66" width="10.60" height="1.7" fill="#d54b34"/>
<rect x="660.10" y="167.50" width="10.60" height="1.7" fill="#bc5a49"/>
<rect x="660.10" y="171.33" width="10.60" height="1.7" fill="#bc5a49"/>
<rect x="661.35" y="175.17" width="8.10" height="1.7" fill="#cf4f3a"/>
<rect x="662.90" y="179.01" width="5.00" height="1.7" fill="#966860"/>
<rect x="659.25" y="182.85" width="12.30" height="1.7" fill="#cf4f3a"/>
<rect x="658.10" y="186.69" width="14.60" height="1.7" fill="#c9543f"/>
<rect x="658.90" y="190.52" width="13.00" height="1.7" fill="#c35844"/>
<rect x="658.90" y="194.36" width="13.00" height="1.7" fill="#bc5a49"/>
<rect x="663.65" y="198.20" width="3.50" height="1.7" fill="#ad6052"/>
<rect x="661.80" y="202.04" width="7.20" height="1.7" fill="#8e6b65"/>
<rect x="664.90" y="205.88" width="1.00" height="1.7" fill="#757575"/>
<rect x="660.05" y="209.71" width="10.70" height="1.7" fill="#c35844"/>
<rect x="660.05" y="213.55" width="10.70" height="1.7" fill="#bc5a49"/>
<rect x="661.80" y="217.39" width="7.20" height="1.7" fill="#8e6b65"/>
<rect x="660.05" y="221.23" width="10.70" height="1.7" fill="#c35844"/>
<rect x="660.05" y="225.07" width="10.70" height="1.7" fill="#b45d4d"/>
<rect x="661.05" y="228.90" width="8.70" height="1.7" fill="#936962"/>
<rect x="661.05" y="232.74" width="8.70" height="1.7" fill="#966860"/>
<rect x="660.05" y="236.58" width="10.70" height="1.7" fill="#c05946"/>
<rect x="661.80" y="240.42" width="7.20" height="1.7" fill="#966860"/>
<rect x="664.10" y="244.26" width="2.60" height="1.7" fill="#7d7270"/>
<text x="487.5" y="178.8" font-size="11.2" text-anchor="end" fill="#1a1a1a">PE</text>
<rect x="500.5" y="254.3" width="180.2" height="23.30000000000001" fill="none" stroke="#666" stroke-width="1.1"/>
<rect x="499.4" y="253.8" width="4.5" height="24.30000000000001" fill="#000"/>
<rect x="515.10" y="255.55" width="14.80" height="1.7" fill="#ff230f"/>
<rect x="514.70" y="259.37" width="15.60" height="1.7" fill="#ff230f"/>
<rect x="513.70" y="263.19" width="17.60" height="1.7" fill="#ff230f"/>
<rect x="514.10" y="267.01" width="16.80" height="1.7" fill="#ff230f"/>
<rect x="513.05" y="270.83" width="18.90" height="1.7" fill="#ff230f"/>
<rect x="515.10" y="274.65" width="14.80" height="1.7" fill="#ff230f"/>
<rect x="552.50" y="255.55" width="16.40" height="1.7" fill="#ff230f"/>
<rect x="552.40" y="259.37" width="16.60" height="1.7" fill="#ff230f"/>
<rect x="551.15" y="263.19" width="19.10" height="1.7" fill="#ff230f"/>
<rect x="553.95" y="267.01" width="13.50" height="1.7" fill="#ff230f"/>
<rect x="551.65" y="270.83" width="18.10" height="1.7" fill="#ff230f"/>
<rect x="550.25" y="274.65" width="20.90" height="1.7" fill="#ff230f"/>
<rect x="585.75" y="255.55" width="19.50" height="1.7" fill="#ff230f"/>
<rect x="585.30" y="259.37" width="20.40" height="1.7" fill="#ff230f"/>
<rect x="584.15" y="263.19" width="22.70" height="1.7" fill="#ff230f"/>
<rect x="582.70" y="267.01" width="25.60" height="1.7" fill="#ff230f"/>
<rect x="587.45" y="270.83" width="16.10" height="1.7" fill="#ff230f"/>
<rect x="587.30" y="274.65" width="16.40" height="1.7" fill="#ff230f"/>
<rect x="621.40" y="255.55" width="18.40" height="1.7" fill="#ff230f"/>
<rect x="621.55" y="259.37" width="18.10" height="1.7" fill="#ff230f"/>
<rect x="625.10" y="263.19" width="11.00" height="1.7" fill="#ff230f"/>
<rect x="628.75" y="267.01" width="3.70" height="1.7" fill="#471eff"/>
<rect x="623.30" y="270.83" width="14.60" height="1.7" fill="#ff230f"/>
<rect x="621.80" y="274.65" width="17.60" height="1.7" fill="#ff230f"/>
<rect x="660.90" y="255.55" width="9.00" height="1.7" fill="#ff230f"/>
<rect x="660.10" y="259.37" width="10.60" height="1.7" fill="#ff230f"/>
<rect x="659.05" y="263.19" width="12.70" height="1.7" fill="#ff230f"/>
<rect x="663.90" y="267.01" width="3.00" height="1.7" fill="#b45d4d"/>
<rect x="660.80" y="270.83" width="9.20" height="1.7" fill="#ff230f"/>
<rect x="659.80" y="274.65" width="11.20" height="1.7" fill="#ff230f"/>
<text x="487.5" y="271.2" font-size="11.2" text-anchor="end" fill="#1a1a1a">LPE</text>
<rect x="500.5" y="284.6" width="180.2" height="119.59999999999997" fill="none" stroke="#666" stroke-width="1.1"/>
<rect x="499.4" y="284.1" width="4.5" height="120.59999999999997" fill="#000"/>
<rect x="522.00" y="286.15" width="1.00" height="1.7" fill="#a66256"/>
<rect x="522.00" y="289.98" width="1.00" height="1.7" fill="#757575"/>
<rect x="520.00" y="293.81" width="5.00" height="1.7" fill="#a66256"/>
<rect x="514.00" y="297.64" width="17.00" height="1.7" fill="#ff230f"/>
<rect x="508.90" y="301.47" width="27.20" height="1.7" fill="#1e00ff"/>
<rect x="511.15" y="305.30" width="22.70" height="1.7" fill="#1e00ff"/>
<rect x="511.15" y="309.13" width="22.70" height="1.7" fill="#1e00ff"/>
<rect x="508.90" y="312.96" width="27.20" height="1.7" fill="#1e00ff"/>
<rect x="513.10" y="316.79" width="18.80" height="1.7" fill="#1e00ff"/>
<rect x="509.15" y="320.62" width="26.70" height="1.7" fill="#1e00ff"/>
<rect x="509.15" y="324.45" width="26.70" height="1.7" fill="#1e00ff"/>
<rect x="509.80" y="328.28" width="25.40" height="1.7" fill="#1e00ff"/>
<rect x="510.90" y="332.11" width="23.20" height="1.7" fill="#1e00ff"/>
<rect x="513.70" y="335.94" width="17.60" height="1.7" fill="#1e00ff"/>
<rect x="511.40" y="339.77" width="22.20" height="1.7" fill="#1e00ff"/>
<rect x="508.90" y="343.60" width="27.20" height="1.7" fill="#1e00ff"/>
<rect x="513.10" y="347.43" width="18.80" height="1.7" fill="#1e00ff"/>
<rect x="511.25" y="351.26" width="22.50" height="1.7" fill="#1e00ff"/>
<rect x="511.15" y="355.09" width="22.70" height="1.7" fill="#1e00ff"/>
<rect x="509.90" y="358.92" width="25.20" height="1.7" fill="#1e00ff"/>
<rect x="509.15" y="362.75" width="26.70" height="1.7" fill="#1e00ff"/>
<rect x="509.25" y="366.58" width="26.50" height="1.7" fill="#1e00ff"/>
<rect x="509.15" y="370.41" width="26.70" height="1.7" fill="#1e00ff"/>
<rect x="508.35" y="374.24" width="28.30" height="1.7" fill="#1e00ff"/>
<rect x="509.15" y="378.07" width="26.70" height="1.7" fill="#1e00ff"/>
<rect x="509.15" y="381.90" width="26.70" height="1.7" fill="#1e00ff"/>
<rect x="509.15" y="385.73" width="26.70" height="1.7" fill="#1e00ff"/>
<rect x="509.15" y="389.56" width="26.70" height="1.7" fill="#1e00ff"/>
<rect x="510.90" y="393.39" width="23.20" height="1.7" fill="#1e00ff"/>
<rect x="516.10" y="397.22" width="12.80" height="1.7" fill="#5a2df9"/>
<rect x="513.60" y="401.05" width="17.80" height="1.7" fill="#1e00ff"/>
<rect x="550.05" y="286.15" width="21.30" height="1.7" fill="#1e00ff"/>
<rect x="550.55" y="289.98" width="20.30" height="1.7" fill="#1e00ff"/>
<rect x="552.95" y="293.81" width="15.50" height="1.7" fill="#1e00ff"/>
<rect x="550.65" y="297.64" width="20.10" height="1.7" fill="#1e00ff"/>
<rect x="548.90" y="301.47" width="23.60" height="1.7" fill="#1e00ff"/>
<rect x="551.40" y="305.30" width="18.60" height="1.7" fill="#1e00ff"/>
<rect x="547.25" y="309.13" width="26.90" height="1.7" fill="#1e00ff"/>
<rect x="547.25" y="312.96" width="26.90" height="1.7" fill="#1e00ff"/>
<rect x="550.75" y="316.79" width="19.90" height="1.7" fill="#1e00ff"/>
<rect x="547.25" y="320.62" width="26.90" height="1.7" fill="#1e00ff"/>
<rect x="548.40" y="324.45" width="24.60" height="1.7" fill="#1e00ff"/>
<rect x="549.70" y="328.28" width="22.00" height="1.7" fill="#1e00ff"/>
<rect x="549.05" y="332.11" width="23.30" height="1.7" fill="#1e00ff"/>
<rect x="553.50" y="335.94" width="14.40" height="1.7" fill="#1e00ff"/>
<rect x="552.00" y="339.77" width="17.40" height="1.7" fill="#1e00ff"/>
<rect x="549.50" y="343.60" width="22.40" height="1.7" fill="#1e00ff"/>
<rect x="553.50" y="347.43" width="14.40" height="1.7" fill="#1e00ff"/>
<rect x="551.15" y="351.26" width="19.10" height="1.7" fill="#1e00ff"/>
<rect x="550.25" y="355.09" width="20.90" height="1.7" fill="#1e00ff"/>
<rect x="550.75" y="358.92" width="19.90" height="1.7" fill="#1e00ff"/>
<rect x="553.30" y="362.75" width="14.80" height="1.7" fill="#1e00ff"/>
<rect x="551.65" y="366.58" width="18.10" height="1.7" fill="#1e00ff"/>
<rect x="551.00" y="370.41" width="19.40" height="1.7" fill="#1e00ff"/>
<rect x="547.25" y="374.24" width="26.90" height="1.7" fill="#1e00ff"/>
<rect x="549.60" y="378.07" width="22.20" height="1.7" fill="#1e00ff"/>
<rect x="547.25" y="381.90" width="26.90" height="1.7" fill="#1e00ff"/>
<rect x="547.25" y="385.73" width="26.90" height="1.7" fill="#1e00ff"/>
<rect x="547.25" y="389.56" width="26.90" height="1.7" fill="#1e00ff"/>
<rect x="548.50" y="393.39" width="24.40" height="1.7" fill="#1e00ff"/>
<rect x="552.40" y="397.22" width="16.60" height="1.7" fill="#1e00ff"/>
<rect x="553.65" y="401.05" width="14.10" height="1.7" fill="#1e00ff"/>
<rect x="595.00" y="286.15" width="1.00" height="1.7" fill="#73648f"/>
<rect x="594.60" y="289.98" width="1.80" height="1.7" fill="#6f53af"/>
<rect x="595.00" y="293.81" width="1.00" height="1.7" fill="#a66256"/>
<rect x="595.00" y="297.64" width="1.00" height="1.7" fill="#a66256"/>
<rect x="589.20" y="301.47" width="12.60" height="1.7" fill="#1e00ff"/>
<rect x="590.00" y="305.30" width="11.00" height="1.7" fill="#1e00ff"/>
<rect x="589.00" y="309.13" width="13.00" height="1.7" fill="#1e00ff"/>
<rect x="586.90" y="312.96" width="17.20" height="1.7" fill="#1e00ff"/>
<rect x="589.60" y="316.79" width="11.80" height="1.7" fill="#1e00ff"/>
<rect x="588.00" y="320.62" width="15.00" height="1.7" fill="#1e00ff"/>
<rect x="588.00" y="324.45" width="15.00" height="1.7" fill="#1e00ff"/>
<rect x="588.00" y="328.28" width="15.00" height="1.7" fill="#1e00ff"/>
<rect x="590.35" y="332.11" width="10.30" height="1.7" fill="#1e00ff"/>
<rect x="590.35" y="335.94" width="10.30" height="1.7" fill="#1e00ff"/>
<rect x="589.20" y="339.77" width="12.60" height="1.7" fill="#1e00ff"/>
<rect x="587.05" y="343.60" width="16.90" height="1.7" fill="#1e00ff"/>
<rect x="589.00" y="347.43" width="13.00" height="1.7" fill="#1e00ff"/>
<rect x="588.20" y="351.26" width="14.60" height="1.7" fill="#1e00ff"/>
<rect x="588.20" y="355.09" width="14.60" height="1.7" fill="#1e00ff"/>
<rect x="589.20" y="358.92" width="12.60" height="1.7" fill="#1e00ff"/>
<rect x="588.05" y="362.75" width="14.90" height="1.7" fill="#1e00ff"/>
<rect x="589.15" y="366.58" width="12.70" height="1.7" fill="#1e00ff"/>
<rect x="586.30" y="370.41" width="18.40" height="1.7" fill="#1e00ff"/>
<rect x="586.90" y="374.24" width="17.20" height="1.7" fill="#1e00ff"/>
<rect x="587.45" y="378.07" width="16.10" height="1.7" fill="#1e00ff"/>
<rect x="588.00" y="381.90" width="15.00" height="1.7" fill="#1e00ff"/>
<rect x="587.30" y="385.73" width="16.40" height="1.7" fill="#1e00ff"/>
<rect x="588.15" y="389.56" width="14.70" height="1.7" fill="#1e00ff"/>
<rect x="589.20" y="393.39" width="12.60" height="1.7" fill="#1e00ff"/>
<rect x="590.75" y="397.22" width="9.50" height="1.7" fill="#1e00ff"/>
<rect x="585.30" y="401.05" width="20.40" height="1.7" fill="#1e00ff"/>
<rect x="622.00" y="286.15" width="17.20" height="1.7" fill="#330fff"/>
<rect x="623.95" y="289.98" width="13.30" height="1.7" fill="#471eff"/>
<rect x="623.15" y="293.81" width="14.90" height="1.7" fill="#471eff"/>
<rect x="626.00" y="297.64" width="9.20" height="1.7" fill="#623bdd"/>
<rect x="625.70" y="301.47" width="9.80" height="1.7" fill="#471eff"/>
<rect x="627.15" y="305.30" width="6.90" height="1.7" fill="#623bdd"/>
<rect x="623.40" y="309.13" width="14.40" height="1.7" fill="#471eff"/>
<rect x="622.15" y="312.96" width="16.90" height="1.7" fill="#471eff"/>
<rect x="628.15" y="316.79" width="4.90" height="1.7" fill="#6b4ac1"/>
<rect x="624.45" y="320.62" width="12.30" height="1.7" fill="#623bdd"/>
<rect x="625.40" y="324.45" width="10.40" height="1.7" fill="#623bdd"/>
<rect x="623.10" y="328.28" width="15.00" height="1.7" fill="#471eff"/>
<rect x="627.70" y="332.11" width="5.80" height="1.7" fill="#623bdd"/>
<rect x="628.15" y="335.94" width="4.90" height="1.7" fill="#623bdd"/>
<rect x="626.15" y="339.77" width="8.90" height="1.7" fill="#623bdd"/>
<rect x="622.00" y="343.60" width="17.20" height="1.7" fill="#330fff"/>
<rect x="626.60" y="347.43" width="8.00" height="1.7" fill="#623bdd"/>
<rect x="626.60" y="351.26" width="8.00" height="1.7" fill="#5a2df9"/>
<rect x="625.10" y="355.09" width="11.00" height="1.7" fill="#5a2df9"/>
<rect x="628.15" y="358.92" width="4.90" height="1.7" fill="#623bdd"/>
<rect x="626.15" y="362.75" width="8.90" height="1.7" fill="#623bdd"/>
<rect x="627.15" y="366.58" width="6.90" height="1.7" fill="#623bdd"/>
<rect x="618.20" y="370.41" width="24.80" height="1.7" fill="#471eff"/>
<rect x="621.55" y="374.24" width="18.10" height="1.7" fill="#471eff"/>
<rect x="625.10" y="378.07" width="11.00" height="1.7" fill="#471eff"/>
<rect x="625.60" y="381.90" width="10.00" height="1.7" fill="#471eff"/>
<rect x="623.30" y="385.73" width="14.60" height="1.7" fill="#5a2df9"/>
<rect x="623.30" y="389.56" width="14.60" height="1.7" fill="#5a2df9"/>
<rect x="623.30" y="393.39" width="14.60" height="1.7" fill="#623bdd"/>
<rect x="628.15" y="397.22" width="4.90" height="1.7" fill="#623bdd"/>
<rect x="619.10" y="401.05" width="23.00" height="1.7" fill="#330fff"/>
<rect x="659.95" y="286.15" width="10.90" height="1.7" fill="#330fff"/>
<rect x="661.55" y="289.98" width="7.70" height="1.7" fill="#5a2df9"/>
<rect x="660.10" y="293.81" width="10.60" height="1.7" fill="#471eff"/>
<rect x="659.25" y="297.64" width="12.30" height="1.7" fill="#471eff"/>
<rect x="661.95" y="301.47" width="6.90" height="1.7" fill="#623bdd"/>
<rect x="664.90" y="305.30" width="1.00" height="1.7" fill="#73648f"/>
<rect x="660.80" y="309.13" width="9.20" height="1.7" fill="#623bdd"/>
<rect x="661.95" y="312.96" width="6.90" height="1.7" fill="#623bdd"/>
<rect x="664.90" y="316.79" width="1.00" height="1.7" fill="#73648f"/>
<rect x="660.40" y="320.62" width="10.00" height="1.7" fill="#623bdd"/>
<rect x="661.80" y="324.45" width="7.20" height="1.7" fill="#623bdd"/>
<rect x="659.80" y="328.28" width="11.20" height="1.7" fill="#623bdd"/>
<rect x="661.95" y="332.11" width="6.90" height="1.7" fill="#623bdd"/>
<rect x="664.90" y="335.94" width="1.00" height="1.7" fill="#73648f"/>
<rect x="663.20" y="339.77" width="4.40" height="1.7" fill="#6b4ac1"/>
<rect x="661.05" y="343.60" width="8.70" height="1.7" fill="#623bdd"/>
<rect x="663.90" y="347.43" width="3.00" height="1.7" fill="#6f53af"/>
<rect x="659.80" y="351.26" width="11.20" height="1.7" fill="#623bdd"/>
<rect x="660.05" y="355.09" width="10.70" height="1.7" fill="#623bdd"/>
<rect x="660.05" y="358.92" width="10.70" height="1.7" fill="#623bdd"/>
<rect x="662.90" y="362.75" width="5.00" height="1.7" fill="#6b4ac1"/>
<rect x="661.80" y="366.58" width="7.20" height="1.7" fill="#6b4ac1"/>
<rect x="659.05" y="370.41" width="12.70" height="1.7" fill="#623bdd"/>
<rect x="659.25" y="374.24" width="12.30" height="1.7" fill="#623bdd"/>
<rect x="659.80" y="378.07" width="11.20" height="1.7" fill="#5a2df9"/>
<rect x="658.10" y="381.90" width="14.60" height="1.7" fill="#471eff"/>
<rect x="657.80" y="385.73" width="15.20" height="1.7" fill="#5a2df9"/>
<rect x="658.10" y="389.56" width="14.60" height="1.7" fill="#5a2df9"/>
<rect x="658.60" y="393.39" width="13.60" height="1.7" fill="#623bdd"/>
<rect x="662.40" y="397.22" width="6.00" height="1.7" fill="#6b4ac1"/>
<rect x="654.30" y="401.05" width="22.20" height="1.7" fill="#471eff"/>
<text x="487.5" y="347.9" font-size="11.2" text-anchor="end" fill="#1a1a1a">PG</text>
<rect x="500.5" y="410.5" width="180.2" height="238.70000000000005" fill="none" stroke="#666" stroke-width="1.1"/>
<rect x="499.4" y="410.0" width="4.5" height="239.70000000000005" fill="#000"/>
<rect x="521.10" y="412.15" width="2.80" height="1.7" fill="#5a2df9"/>
<rect x="516.10" y="415.99" width="12.80" height="1.7" fill="#1e00ff"/>
<rect x="521.95" y="419.82" width="1.10" height="1.7" fill="#6f53af"/>
<rect x="515.55" y="423.66" width="13.90" height="1.7" fill="#1e00ff"/>
<rect x="515.80" y="427.50" width="13.40" height="1.7" fill="#471eff"/>
<rect x="518.10" y="431.33" width="8.80" height="1.7" fill="#623bdd"/>
<rect x="516.00" y="435.17" width="13.00" height="1.7" fill="#1e00ff"/>
<rect x="511.95" y="439.01" width="21.10" height="1.7" fill="#1e00ff"/>
<rect x="520.00" y="442.85" width="5.00" height="1.7" fill="#623bdd"/>
<rect x="511.00" y="446.68" width="23.00" height="1.7" fill="#1e00ff"/>
<rect x="521.10" y="450.52" width="2.80" height="1.7" fill="#1e00ff"/>
<rect x="521.10" y="454.36" width="2.80" height="1.7" fill="#471eff"/>
<rect x="520.10" y="458.19" width="4.80" height="1.7" fill="#1e00ff"/>
<rect x="515.30" y="462.03" width="14.40" height="1.7" fill="#1e00ff"/>
<rect x="509.75" y="465.87" width="25.50" height="1.7" fill="#1e00ff"/>
<rect x="520.55" y="469.70" width="3.90" height="1.7" fill="#1e00ff"/>
<rect x="519.00" y="473.54" width="7.00" height="1.7" fill="#1e00ff"/>
<rect x="513.55" y="477.38" width="17.90" height="1.7" fill="#1e00ff"/>
<rect x="513.80" y="481.22" width="17.40" height="1.7" fill="#1e00ff"/>
<rect x="517.65" y="485.05" width="9.70" height="1.7" fill="#ed371f"/>
<rect x="515.85" y="488.89" width="13.30" height="1.7" fill="#3d16ff"/>
<rect x="512.90" y="492.73" width="19.20" height="1.7" fill="#1e00ff"/>
<rect x="511.55" y="496.56" width="21.90" height="1.7" fill="#1e00ff"/>
<rect x="519.45" y="500.40" width="6.10" height="1.7" fill="#1e00ff"/>
<rect x="515.10" y="504.24" width="14.80" height="1.7" fill="#1e00ff"/>
<rect x="516.00" y="508.07" width="13.00" height="1.7" fill="#3d16ff"/>
<rect x="514.20" y="511.91" width="16.60" height="1.7" fill="#1e00ff"/>
<rect x="512.90" y="515.75" width="19.20" height="1.7" fill="#1e00ff"/>
<rect x="520.45" y="519.59" width="4.10" height="1.7" fill="#6b4ac1"/>
<rect x="519.45" y="523.42" width="6.10" height="1.7" fill="#1e00ff"/>
<rect x="513.35" y="527.26" width="18.30" height="1.7" fill="#1e00ff"/>
<rect x="520.45" y="531.10" width="4.10" height="1.7" fill="#1e00ff"/>
<rect x="521.00" y="534.93" width="3.00" height="1.7" fill="#1e00ff"/>
<rect x="520.85" y="538.77" width="3.30" height="1.7" fill="#6b4ac1"/>
<rect x="516.10" y="542.61" width="12.80" height="1.7" fill="#1e00ff"/>
<rect x="516.10" y="546.45" width="12.80" height="1.7" fill="#ed371f"/>
<rect x="515.10" y="550.28" width="14.80" height="1.7" fill="#1e00ff"/>
<rect x="514.00" y="554.12" width="17.00" height="1.7" fill="#1e00ff"/>
<rect x="514.00" y="557.96" width="17.00" height="1.7" fill="#1e00ff"/>
<rect x="521.00" y="561.79" width="3.00" height="1.7" fill="#1e00ff"/>
<rect x="512.50" y="565.63" width="20.00" height="1.7" fill="#1e00ff"/>
<rect x="515.30" y="569.47" width="14.40" height="1.7" fill="#471eff"/>
<rect x="513.00" y="573.30" width="19.00" height="1.7" fill="#1e00ff"/>
<rect x="515.00" y="577.14" width="15.00" height="1.7" fill="#1e00ff"/>
<rect x="515.00" y="580.98" width="15.00" height="1.7" fill="#1e00ff"/>
<rect x="520.45" y="584.81" width="4.10" height="1.7" fill="#1e00ff"/>
<rect x="519.15" y="588.65" width="6.70" height="1.7" fill="#623bdd"/>
<rect x="522.00" y="592.49" width="1.00" height="1.7" fill="#a66256"/>
<rect x="515.10" y="596.33" width="14.80" height="1.7" fill="#471eff"/>
<rect x="521.35" y="600.16" width="2.30" height="1.7" fill="#6b4ac1"/>
<rect x="521.65" y="604.00" width="1.70" height="1.7" fill="#330fff"/>
<rect x="518.35" y="607.84" width="8.30" height="1.7" fill="#6b4ac1"/>
<rect x="514.80" y="611.67" width="15.40" height="1.7" fill="#471eff"/>
<rect x="509.25" y="615.51" width="26.50" height="1.7" fill="#1e00ff"/>
<rect x="516.35" y="619.35" width="12.30" height="1.7" fill="#471eff"/>
<rect x="513.35" y="623.18" width="18.30" height="1.7" fill="#1e00ff"/>
<rect x="512.35" y="627.02" width="20.30" height="1.7" fill="#1e00ff"/>
<rect x="517.55" y="630.86" width="9.90" height="1.7" fill="#471eff"/>
<rect x="515.90" y="634.70" width="13.20" height="1.7" fill="#1e00ff"/>
<rect x="509.45" y="638.53" width="26.10" height="1.7" fill="#1e00ff"/>
<rect x="517.00" y="642.37" width="11.00" height="1.7" fill="#1e00ff"/>
<rect x="516.00" y="646.21" width="13.00" height="1.7" fill="#471eff"/>
<rect x="558.60" y="412.15" width="4.20" height="1.7" fill="#6b4ac1"/>
<rect x="548.60" y="415.99" width="24.20" height="1.7" fill="#1e00ff"/>
<rect x="560.05" y="419.82" width="1.30" height="1.7" fill="#725c9e"/>
<rect x="547.20" y="423.66" width="27.00" height="1.7" fill="#1e00ff"/>
<rect x="558.60" y="427.50" width="4.20" height="1.7" fill="#6b4ac1"/>
<rect x="556.25" y="431.33" width="8.90" height="1.7" fill="#623bdd"/>
<rect x="553.20" y="435.17" width="15.00" height="1.7" fill="#1e00ff"/>
<rect x="552.05" y="439.01" width="17.30" height="1.7" fill="#3d16ff"/>
<rect x="557.80" y="442.85" width="5.80" height="1.7" fill="#6b4ac1"/>
<rect x="552.05" y="446.68" width="17.30" height="1.7" fill="#1e00ff"/>
<rect x="560.00" y="450.52" width="1.40" height="1.7" fill="#a66256"/>
<rect x="560.20" y="454.36" width="1.00" height="1.7" fill="#757575"/>
<rect x="555.35" y="458.19" width="10.70" height="1.7" fill="#471eff"/>
<rect x="551.25" y="462.03" width="18.90" height="1.7" fill="#471eff"/>
<rect x="549.50" y="465.87" width="22.40" height="1.7" fill="#1e00ff"/>
<rect x="556.25" y="469.70" width="8.90" height="1.7" fill="#6b4ac1"/>
<rect x="550.65" y="473.54" width="20.10" height="1.7" fill="#1e00ff"/>
<rect x="550.35" y="477.38" width="20.70" height="1.7" fill="#1e00ff"/>
<rect x="552.40" y="481.22" width="16.60" height="1.7" fill="#471eff"/>
<rect x="553.90" y="485.05" width="13.60" height="1.7" fill="#c9543f"/>
<rect x="550.65" y="488.89" width="20.10" height="1.7" fill="#1e00ff"/>
<rect x="549.25" y="492.73" width="22.90" height="1.7" fill="#1e00ff"/>
<rect x="548.95" y="496.56" width="23.50" height="1.7" fill="#1e00ff"/>
<rect x="549.50" y="500.40" width="22.40" height="1.7" fill="#1e00ff"/>
<rect x="549.75" y="504.24" width="21.90" height="1.7" fill="#1e00ff"/>
<rect x="555.35" y="508.07" width="10.70" height="1.7" fill="#5a2df9"/>
<rect x="549.60" y="511.91" width="22.20" height="1.7" fill="#1e00ff"/>
<rect x="548.05" y="515.75" width="25.30" height="1.7" fill="#1e00ff"/>
<rect x="556.25" y="519.59" width="8.90" height="1.7" fill="#6742cf"/>
<rect x="550.45" y="523.42" width="20.50" height="1.7" fill="#1e00ff"/>
<rect x="552.80" y="527.26" width="15.80" height="1.7" fill="#1e00ff"/>
<rect x="557.65" y="531.10" width="6.10" height="1.7" fill="#6b4ac1"/>
<rect x="559.50" y="534.93" width="2.40" height="1.7" fill="#725c9e"/>
<rect x="560.00" y="538.77" width="1.40" height="1.7" fill="#a66256"/>
<rect x="555.35" y="542.61" width="10.70" height="1.7" fill="#471eff"/>
<rect x="558.85" y="546.45" width="3.70" height="1.7" fill="#73648f"/>
<rect x="553.40" y="550.28" width="14.60" height="1.7" fill="#3d16ff"/>
<rect x="553.20" y="554.12" width="15.00" height="1.7" fill="#1e00ff"/>
<rect x="553.20" y="557.96" width="15.00" height="1.7" fill="#3d16ff"/>
<rect x="554.30" y="561.79" width="12.80" height="1.7" fill="#1e00ff"/>
<rect x="552.05" y="565.63" width="17.30" height="1.7" fill="#1e00ff"/>
<rect x="553.20" y="569.47" width="15.00" height="1.7" fill="#1e00ff"/>
<rect x="552.25" y="573.30" width="16.90" height="1.7" fill="#1e00ff"/>
<rect x="553.75" y="577.14" width="13.90" height="1.7" fill="#1e00ff"/>
<rect x="552.15" y="580.98" width="17.10" height="1.7" fill="#1e00ff"/>
<rect x="553.30" y="584.81" width="14.80" height="1.7" fill="#1e00ff"/>
<rect x="558.15" y="588.65" width="5.10" height="1.7" fill="#6b4ac1"/>
<rect x="557.55" y="592.49" width="6.30" height="1.7" fill="#db472f"/>
<rect x="555.60" y="596.33" width="10.20" height="1.7" fill="#5a2df9"/>
<rect x="557.10" y="600.16" width="7.20" height="1.7" fill="#6b4ac1"/>
<rect x="557.05" y="604.00" width="7.30" height="1.7" fill="#ed371f"/>
<rect x="560.20" y="607.84" width="1.00" height="1.7" fill="#757575"/>
<rect x="548.95" y="611.67" width="23.50" height="1.7" fill="#1e00ff"/>
<rect x="547.15" y="615.51" width="27.10" height="1.7" fill="#1e00ff"/>
<rect x="554.30" y="619.35" width="12.80" height="1.7" fill="#5226ff"/>
<rect x="552.65" y="623.18" width="16.10" height="1.7" fill="#1e00ff"/>
<rect x="547.75" y="627.02" width="25.90" height="1.7" fill="#1e00ff"/>
<rect x="554.95" y="630.86" width="11.50" height="1.7" fill="#5a2df9"/>
<rect x="553.20" y="634.70" width="15.00" height="1.7" fill="#1e00ff"/>
<rect x="549.65" y="638.53" width="22.10" height="1.7" fill="#1e00ff"/>
<rect x="553.20" y="642.37" width="15.00" height="1.7" fill="#1e00ff"/>
<rect x="553.05" y="646.21" width="15.30" height="1.7" fill="#471eff"/>
<rect x="594.60" y="412.15" width="1.80" height="1.7" fill="#5a2df9"/>
<rect x="591.90" y="415.99" width="7.20" height="1.7" fill="#1e00ff"/>
<rect x="595.00" y="419.82" width="1.00" height="1.7" fill="#725c9e"/>
<rect x="591.65" y="423.66" width="7.70" height="1.7" fill="#1e00ff"/>
<rect x="594.75" y="427.50" width="1.50" height="1.7" fill="#6b4ac1"/>
<rect x="595.00" y="431.33" width="1.00" height="1.7" fill="#757575"/>
<rect x="591.05" y="435.17" width="8.90" height="1.7" fill="#471eff"/>
<rect x="591.15" y="439.01" width="8.70" height="1.7" fill="#471eff"/>
<rect x="594.90" y="442.85" width="1.20" height="1.7" fill="#6f53af"/>
<rect x="589.15" y="446.68" width="12.70" height="1.7" fill="#1e00ff"/>
<rect x="594.00" y="450.52" width="3.00" height="1.7" fill="#5a2df9"/>
<rect x="595.00" y="454.36" width="1.00" height="1.7" fill="#757575"/>
<rect x="594.00" y="458.19" width="3.00" height="1.7" fill="#1e00ff"/>
<rect x="593.30" y="462.03" width="4.40" height="1.7" fill="#623bdd"/>
<rect x="588.35" y="465.87" width="14.30" height="1.7" fill="#1e00ff"/>
<rect x="594.50" y="469.70" width="2.00" height="1.7" fill="#6b4ac1"/>
<rect x="593.00" y="473.54" width="5.00" height="1.7" fill="#1e00ff"/>
<rect x="590.15" y="477.38" width="10.70" height="1.7" fill="#330fff"/>
<rect x="589.15" y="481.22" width="12.70" height="1.7" fill="#2808ff"/>
<rect x="590.90" y="485.05" width="9.20" height="1.7" fill="#ff230f"/>
<rect x="591.90" y="488.89" width="7.20" height="1.7" fill="#5a2df9"/>
<rect x="589.20" y="492.73" width="12.60" height="1.7" fill="#1e00ff"/>
<rect x="588.35" y="496.56" width="14.30" height="1.7" fill="#1e00ff"/>
<rect x="593.00" y="500.40" width="5.00" height="1.7" fill="#1e00ff"/>
<rect x="591.05" y="504.24" width="8.90" height="1.7" fill="#3d16ff"/>
<rect x="591.90" y="508.07" width="7.20" height="1.7" fill="#3d16ff"/>
<rect x="590.00" y="511.91" width="11.00" height="1.7" fill="#2808ff"/>
<rect x="588.35" y="515.75" width="14.30" height="1.7" fill="#1e00ff"/>
<rect x="594.60" y="519.59" width="1.80" height="1.7" fill="#6b4ac1"/>
<rect x="592.65" y="523.42" width="5.70" height="1.7" fill="#1e00ff"/>
<rect x="591.45" y="527.26" width="8.10" height="1.7" fill="#1e00ff"/>
<rect x="594.60" y="531.10" width="1.80" height="1.7" fill="#623bdd"/>
<rect x="595.00" y="534.93" width="1.00" height="1.7" fill="#725c9e"/>
<rect x="591.05" y="538.77" width="8.90" height="1.7" fill="#471eff"/>
<rect x="592.30" y="542.61" width="6.40" height="1.7" fill="#623bdd"/>
<rect x="592.30" y="546.45" width="6.40" height="1.7" fill="#d54b34"/>
<rect x="591.05" y="550.28" width="8.90" height="1.7" fill="#3d16ff"/>
<rect x="591.05" y="554.12" width="8.90" height="1.7" fill="#3d16ff"/>
<rect x="591.90" y="557.96" width="7.20" height="1.7" fill="#471eff"/>
<rect x="594.00" y="561.79" width="3.00" height="1.7" fill="#1e00ff"/>
<rect x="590.90" y="565.63" width="9.20" height="1.7" fill="#330fff"/>
<rect x="593.30" y="569.47" width="4.40" height="1.7" fill="#623bdd"/>
<rect x="588.85" y="573.30" width="13.30" height="1.7" fill="#2808ff"/>
<rect x="591.05" y="577.14" width="8.90" height="1.7" fill="#5226ff"/>
<rect x="590.15" y="580.98" width="10.70" height="1.7" fill="#471eff"/>
<rect x="593.75" y="584.81" width="3.50" height="1.7" fill="#1e00ff"/>
<rect x="595.00" y="588.65" width="1.00" height="1.7" fill="#757575"/>
<rect x="594.10" y="592.49" width="2.80" height="1.7" fill="#b45d4d"/>
<rect x="594.10" y="596.33" width="2.80" height="1.7" fill="#623bdd"/>
<rect x="595.00" y="600.16" width="1.00" height="1.7" fill="#757575"/>
<rect x="595.00" y="604.00" width="1.00" height="1.7" fill="#623bdd"/>
<rect x="591.65" y="607.84" width="7.70" height="1.7" fill="#623bdd"/>
<rect x="590.15" y="611.67" width="10.70" height="1.7" fill="#623bdd"/>
<rect x="589.75" y="615.51" width="11.50" height="1.7" fill="#3d16ff"/>
<rect x="594.00" y="619.35" width="3.00" height="1.7" fill="#623bdd"/>
<rect x="585.50" y="623.18" width="20.00" height="1.7" fill="#1e00ff"/>
<rect x="589.35" y="627.02" width="12.30" height="1.7" fill="#1e00ff"/>
<rect x="594.10" y="630.86" width="2.80" height="1.7" fill="#623bdd"/>
<rect x="592.30" y="634.70" width="6.40" height="1.7" fill="#5a2df9"/>
<rect x="589.15" y="638.53" width="12.70" height="1.7" fill="#330fff"/>
<rect x="589.15" y="642.37" width="12.70" height="1.7" fill="#330fff"/>
<rect x="593.00" y="646.21" width="5.00" height="1.7" fill="#623bdd"/>
<rect x="628.75" y="412.15" width="3.70" height="1.7" fill="#db472f"/>
<rect x="627.25" y="415.99" width="6.70" height="1.7" fill="#623bdd"/>
<rect x="628.00" y="419.82" width="5.20" height="1.7" fill="#ff230f"/>
<rect x="627.10" y="423.66" width="7.00" height="1.7" fill="#623bdd"/>
<rect x="622.50" y="427.50" width="16.20" height="1.7" fill="#471eff"/>
<rect x="630.00" y="431.33" width="1.20" height="1.7" fill="#b45d4d"/>
<rect x="630.10" y="435.17" width="1.00" height="1.7" fill="#6f53af"/>
<rect x="630.10" y="439.01" width="1.00" height="1.7" fill="#6f53af"/>
<rect x="629.20" y="442.85" width="2.80" height="1.7" fill="#db472f"/>
<rect x="628.00" y="446.68" width="5.20" height="1.7" fill="#623bdd"/>
<rect x="629.20" y="450.52" width="2.80" height="1.7" fill="#cf4f3a"/>
<rect x="630.00" y="454.36" width="1.20" height="1.7" fill="#b45d4d"/>
<rect x="630.10" y="458.19" width="1.00" height="1.7" fill="#757575"/>
<rect x="630.10" y="462.03" width="1.00" height="1.7" fill="#757575"/>
<rect x="627.10" y="465.87" width="7.00" height="1.7" fill="#623bdd"/>
<rect x="630.10" y="469.70" width="1.00" height="1.7" fill="#757575"/>
<rect x="629.45" y="473.54" width="2.30" height="1.7" fill="#6b4ac1"/>
<rect x="627.25" y="477.38" width="6.70" height="1.7" fill="#623bdd"/>
<rect x="628.70" y="481.22" width="3.80" height="1.7" fill="#623bdd"/>
<rect x="628.70" y="485.05" width="3.80" height="1.7" fill="#b45d4d"/>
<rect x="630.10" y="488.89" width="1.00" height="1.7" fill="#757575"/>
<rect x="629.20" y="492.73" width="2.80" height="1.7" fill="#623bdd"/>
<rect x="627.10" y="496.56" width="7.00" height="1.7" fill="#623bdd"/>
<rect x="628.90" y="500.40" width="3.40" height="1.7" fill="#623bdd"/>
<rect x="630.00" y="504.24" width="1.20" height="1.7" fill="#623bdd"/>
<rect x="630.10" y="508.07" width="1.00" height="1.7" fill="#757575"/>
<rect x="628.15" y="511.91" width="4.90" height="1.7" fill="#623bdd"/>
<rect x="625.60" y="515.75" width="10.00" height="1.7" fill="#623bdd"/>
<rect x="628.15" y="519.59" width="4.90" height="1.7" fill="#db472f"/>
<rect x="629.20" y="523.42" width="2.80" height="1.7" fill="#623bdd"/>
<rect x="630.00" y="527.26" width="1.20" height="1.7" fill="#623bdd"/>
<rect x="630.00" y="531.10" width="1.20" height="1.7" fill="#623bdd"/>
<rect x="628.15" y="534.93" width="4.90" height="1.7" fill="#f92a14"/>
<rect x="626.45" y="538.77" width="8.30" height="1.7" fill="#623bdd"/>
<rect x="629.20" y="542.61" width="2.80" height="1.7" fill="#6b4ac1"/>
<rect x="623.85" y="546.45" width="13.50" height="1.7" fill="#1e00ff"/>
<rect x="630.10" y="550.28" width="1.00" height="1.7" fill="#757575"/>
<rect x="630.10" y="554.12" width="1.00" height="1.7" fill="#757575"/>
<rect x="630.10" y="557.96" width="1.00" height="1.7" fill="#757575"/>
<rect x="630.10" y="561.79" width="1.00" height="1.7" fill="#757575"/>
<rect x="630.10" y="565.63" width="1.00" height="1.7" fill="#757575"/>
<rect x="630.10" y="569.47" width="1.00" height="1.7" fill="#757575"/>
<rect x="629.70" y="573.30" width="1.80" height="1.7" fill="#6b4ac1"/>
<rect x="630.10" y="577.14" width="1.00" height="1.7" fill="#757575"/>
<rect x="629.70" y="580.98" width="1.80" height="1.7" fill="#6b4ac1"/>
<rect x="629.70" y="584.81" width="1.80" height="1.7" fill="#6b4ac1"/>
<rect x="629.20" y="588.65" width="2.80" height="1.7" fill="#c35844"/>
<rect x="626.40" y="592.49" width="8.40" height="1.7" fill="#db472f"/>
<rect x="629.20" y="596.33" width="2.80" height="1.7" fill="#c35844"/>
<rect x="627.70" y="600.16" width="5.80" height="1.7" fill="#ed371f"/>
<rect x="624.45" y="604.00" width="12.30" height="1.7" fill="#f3301a"/>
<rect x="629.70" y="607.84" width="1.80" height="1.7" fill="#6b4ac1"/>
<rect x="627.15" y="611.67" width="6.90" height="1.7" fill="#623bdd"/>
<rect x="628.15" y="615.51" width="4.90" height="1.7" fill="#623bdd"/>
<rect x="629.20" y="619.35" width="2.80" height="1.7" fill="#bc5a49"/>
<rect x="627.10" y="623.18" width="7.00" height="1.7" fill="#623bdd"/>
<rect x="629.20" y="627.02" width="2.80" height="1.7" fill="#6b4ac1"/>
<rect x="629.20" y="630.86" width="2.80" height="1.7" fill="#bc5a49"/>
<rect x="628.15" y="634.70" width="4.90" height="1.7" fill="#623bdd"/>
<rect x="628.15" y="638.53" width="4.90" height="1.7" fill="#623bdd"/>
<rect x="626.90" y="642.37" width="7.40" height="1.7" fill="#5226ff"/>
<rect x="630.10" y="646.21" width="1.00" height="1.7" fill="#757575"/>
<rect x="660.55" y="412.15" width="9.70" height="1.7" fill="#ff230f"/>
<rect x="663.95" y="415.99" width="2.90" height="1.7" fill="#b45d4d"/>
<rect x="660.80" y="419.82" width="9.20" height="1.7" fill="#ff230f"/>
<rect x="664.90" y="423.66" width="1.00" height="1.7" fill="#757575"/>
<rect x="659.50" y="427.50" width="11.80" height="1.7" fill="#5a2df9"/>
<rect x="660.80" y="431.33" width="9.20" height="1.7" fill="#e2432a"/>
<rect x="664.25" y="435.17" width="2.30" height="1.7" fill="#b45d4d"/>
<rect x="663.50" y="439.01" width="3.80" height="1.7" fill="#bc5a49"/>
<rect x="660.55" y="442.85" width="9.70" height="1.7" fill="#e2432a"/>
<rect x="663.95" y="446.68" width="2.90" height="1.7" fill="#b45d4d"/>
<rect x="660.05" y="450.52" width="10.70" height="1.7" fill="#cf4f3a"/>
<rect x="660.05" y="454.36" width="10.70" height="1.7" fill="#db472f"/>
<rect x="663.95" y="458.19" width="2.90" height="1.7" fill="#b45d4d"/>
<rect x="661.95" y="462.03" width="6.90" height="1.7" fill="#c35844"/>
<rect x="664.90" y="465.87" width="1.00" height="1.7" fill="#757575"/>
<rect x="661.05" y="469.70" width="8.70" height="1.7" fill="#d54b34"/>
<rect x="664.25" y="473.54" width="2.30" height="1.7" fill="#b45d4d"/>
<rect x="664.25" y="477.38" width="2.30" height="1.7" fill="#866e6b"/>
<rect x="664.90" y="481.22" width="1.00" height="1.7" fill="#757575"/>
<rect x="659.50" y="485.05" width="11.80" height="1.7" fill="#ed371f"/>
<rect x="663.50" y="488.89" width="3.80" height="1.7" fill="#b45d4d"/>
<rect x="664.25" y="492.73" width="2.30" height="1.7" fill="#6f53af"/>
<rect x="661.95" y="496.56" width="6.90" height="1.7" fill="#623bdd"/>
<rect x="664.90" y="500.40" width="1.00" height="1.7" fill="#757575"/>
<rect x="664.90" y="504.24" width="1.00" height="1.7" fill="#757575"/>
<rect x="663.10" y="508.07" width="4.60" height="1.7" fill="#b45d4d"/>
<rect x="664.90" y="511.91" width="1.00" height="1.7" fill="#757575"/>
<rect x="662.40" y="515.75" width="6.00" height="1.7" fill="#623bdd"/>
<rect x="660.55" y="519.59" width="9.70" height="1.7" fill="#e2432a"/>
<rect x="664.90" y="523.42" width="1.00" height="1.7" fill="#6f53af"/>
<rect x="664.90" y="527.26" width="1.00" height="1.7" fill="#757575"/>
<rect x="664.10" y="531.10" width="2.60" height="1.7" fill="#ad6052"/>
<rect x="660.05" y="534.93" width="10.70" height="1.7" fill="#db472f"/>
<rect x="664.25" y="538.77" width="2.30" height="1.7" fill="#6b4ac1"/>
<rect x="664.90" y="542.61" width="1.00" height="1.7" fill="#757575"/>
<rect x="661.55" y="546.45" width="7.70" height="1.7" fill="#5a2df9"/>
<rect x="664.25" y="550.28" width="2.30" height="1.7" fill="#ad6052"/>
<rect x="664.90" y="554.12" width="1.00" height="1.7" fill="#757575"/>
<rect x="664.90" y="557.96" width="1.00" height="1.7" fill="#757575"/>
<rect x="664.40" y="561.79" width="2.00" height="1.7" fill="#b45d4d"/>
<rect x="663.95" y="565.63" width="2.90" height="1.7" fill="#6b4ac1"/>
<rect x="664.90" y="569.47" width="1.00" height="1.7" fill="#757575"/>
<rect x="664.90" y="573.30" width="1.00" height="1.7" fill="#757575"/>
<rect x="664.90" y="577.14" width="1.00" height="1.7" fill="#757575"/>
<rect x="664.90" y="580.98" width="1.00" height="1.7" fill="#757575"/>
<rect x="664.90" y="584.81" width="1.00" height="1.7" fill="#757575"/>
<rect x="659.65" y="588.65" width="11.50" height="1.7" fill="#e2432a"/>
<rect x="660.10" y="592.49" width="10.60" height="1.7" fill="#f92a14"/>
<rect x="659.20" y="596.33" width="12.40" height="1.7" fill="#db472f"/>
<rect x="659.20" y="600.16" width="12.40" height="1.7" fill="#f92a14"/>
<rect x="662.10" y="604.00" width="6.60" height="1.7" fill="#f3301a"/>
<rect x="663.10" y="607.84" width="4.60" height="1.7" fill="#623bdd"/>
<rect x="663.95" y="611.67" width="2.90" height="1.7" fill="#6b4ac1"/>
<rect x="661.95" y="615.51" width="6.90" height="1.7" fill="#623bdd"/>
<rect x="661.95" y="619.35" width="6.90" height="1.7" fill="#c35844"/>
<rect x="664.90" y="623.18" width="1.00" height="1.7" fill="#757575"/>
<rect x="663.65" y="627.02" width="3.50" height="1.7" fill="#6b4ac1"/>
<rect x="661.05" y="630.86" width="8.70" height="1.7" fill="#c35844"/>
<rect x="663.35" y="634.70" width="4.10" height="1.7" fill="#b45d4d"/>
<rect x="661.35" y="638.53" width="8.10" height="1.7" fill="#623bdd"/>
<rect x="663.90" y="642.37" width="3.00" height="1.7" fill="#c35844"/>
<rect x="662.10" y="646.21" width="6.60" height="1.7" fill="#c35844"/>
<text x="487.5" y="534.1" font-size="11.2" text-anchor="end" fill="#1a1a1a">CL</text>
<rect x="500.5" y="656.0" width="180.2" height="16.100000000000023" fill="none" stroke="#666" stroke-width="1.1"/>
<rect x="499.4" y="655.5" width="4.5" height="17.100000000000023" fill="#000"/>
<rect x="520.05" y="657.05" width="4.90" height="1.7" fill="#c9543f"/>
<rect x="516.90" y="660.98" width="11.20" height="1.7" fill="#ff230f"/>
<rect x="518.10" y="664.91" width="8.80" height="1.7" fill="#f3301a"/>
<rect x="512.60" y="668.84" width="19.80" height="1.7" fill="#ff230f"/>
<rect x="556.75" y="657.05" width="7.90" height="1.7" fill="#c9543f"/>
<rect x="554.35" y="660.98" width="12.70" height="1.7" fill="#ff230f"/>
<rect x="556.45" y="664.91" width="8.50" height="1.7" fill="#e2432a"/>
<rect x="549.85" y="668.84" width="21.70" height="1.7" fill="#ff230f"/>
<rect x="595.00" y="657.05" width="1.00" height="1.7" fill="#757575"/>
<rect x="592.60" y="660.98" width="5.80" height="1.7" fill="#ff230f"/>
<rect x="594.25" y="664.91" width="2.50" height="1.7" fill="#c35844"/>
<rect x="589.95" y="668.84" width="11.10" height="1.7" fill="#ff230f"/>
<rect x="626.50" y="657.05" width="8.20" height="1.7" fill="#1e00ff"/>
<rect x="629.20" y="660.98" width="2.80" height="1.7" fill="#471eff"/>
<rect x="627.90" y="664.91" width="5.40" height="1.7" fill="#471eff"/>
<rect x="620.55" y="668.84" width="20.10" height="1.7" fill="#ff230f"/>
<rect x="660.00" y="657.05" width="10.80" height="1.7" fill="#1e00ff"/>
<rect x="660.70" y="660.98" width="9.40" height="1.7" fill="#1e00ff"/>
<rect x="660.00" y="664.91" width="10.80" height="1.7" fill="#1e00ff"/>
<rect x="660.00" y="668.84" width="10.80" height="1.7" fill="#ff230f"/>
<text x="487.5" y="668.0" font-size="11.2" text-anchor="end" fill="#1a1a1a">LPG</text>
<rect x="503.5" y="679" width="177.3" height="61.8" fill="none" stroke="#444" stroke-width="1"/>
<text x="557.0" y="694.4" font-size="7.6" text-anchor="middle" fill="#1a1a1a" textLength="27.6" lengthAdjust="spacingAndGlyphs">log2(FC)</text>
<text x="557.0" y="701.9" font-size="6.3" text-anchor="middle" fill="#1a1a1a" font-style="italic" textLength="25.9" lengthAdjust="spacingAndGlyphs">OM vs WV</text>
<defs><linearGradient id="cb" x1="0" x2="1" y1="0" y2="0"><stop offset="0.000" stop-color="#1e00ff"/><stop offset="0.140" stop-color="#582aff"/><stop offset="0.255" stop-color="#6c4bbe"/><stop offset="0.375" stop-color="#736096"/><stop offset="0.500" stop-color="#757575"/><stop offset="0.630" stop-color="#a0645a"/><stop offset="0.750" stop-color="#c35844"/><stop offset="0.885" stop-color="#e44128"/><stop offset="1.000" stop-color="#ff230f"/></linearGradient></defs>
<rect x="515.3" y="707.0" width="82.8" height="6.6" fill="url(#cb)"/>
<text x="515.3" y="721.8" font-size="7.2" text-anchor="middle" fill="#1a1a1a">-1</text>
<text x="536.0" y="721.8" font-size="7.2" text-anchor="middle" fill="#1a1a1a">-0.5</text>
<text x="556.8" y="721.8" font-size="7.2" text-anchor="middle" fill="#1a1a1a">0</text>
<text x="577.5" y="721.8" font-size="7.2" text-anchor="middle" fill="#1a1a1a">0.5</text>
<text x="598.1" y="721.8" font-size="7.2" text-anchor="middle" fill="#1a1a1a">1</text>
<text x="646.0" y="689.8" font-size="7.3" text-anchor="middle" fill="#1a1a1a">-log10(adj p-val)</text>
<text x="634.2" y="703.9" font-size="7.2" text-anchor="middle" fill="#1a1a1a">1</text>
<line x1="652.8" y1="700.9" x2="660" y2="700.9" stroke="#5c5c5c" stroke-width="1.6"/>
<text x="634.2" y="714.88" font-size="7.2" text-anchor="middle" fill="#1a1a1a">2</text>
<line x1="649" y1="711.93" x2="664" y2="711.93" stroke="#5c5c5c" stroke-width="1.6"/>
<text x="634.2" y="725.86" font-size="7.2" text-anchor="middle" fill="#1a1a1a">3</text>
<line x1="645" y1="722.9599999999999" x2="668" y2="722.9599999999999" stroke="#5c5c5c" stroke-width="1.6"/>
<text x="634.2" y="736.8399999999999" font-size="7.2" text-anchor="middle" fill="#1a1a1a">4</text>
<line x1="641" y1="733.99" x2="672" y2="733.99" stroke="#5c5c5c" stroke-width="1.6"/>
</svg></body></html>
